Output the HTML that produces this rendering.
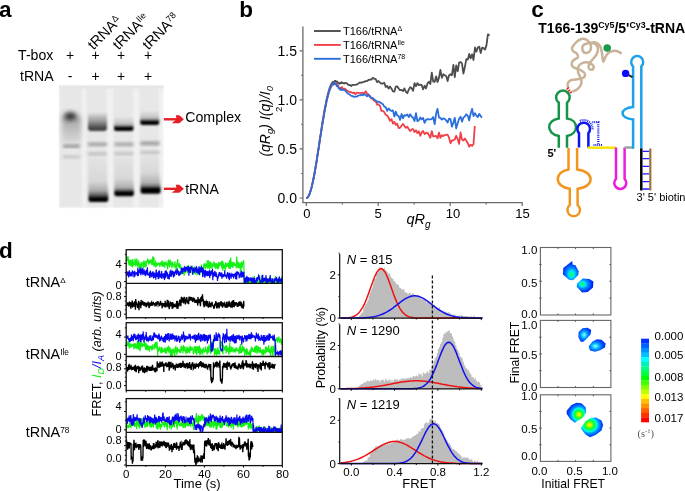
<!DOCTYPE html><html><head><meta charset="utf-8"><style>html,body{margin:0;padding:0;background:#fff;overflow:hidden;}svg{display:block;will-change:transform;} text{font-family:"Liberation Sans",sans-serif;}</style></head><body><svg width="685" height="491" viewBox="0 0 685 491"><text x="-1" y="16.6" font-size="22.5" text-anchor="start" font-weight="bold" font-style="normal" fill="#000" >a</text>
<text x="18.1" y="60.3" font-size="14.1" text-anchor="start" font-weight="normal" font-style="normal" fill="#000" >T-box</text>
<text x="20" y="80.8" font-size="14.1" text-anchor="start" font-weight="normal" font-style="normal" fill="#000" >tRNA</text>
<text x="70.1" y="60" font-size="14" text-anchor="middle" font-weight="normal" font-style="normal" fill="#000" >+</text>
<text x="70.1" y="80.6" font-size="14" text-anchor="middle" font-weight="normal" font-style="normal" fill="#000" >-</text>
<text x="95.7" y="60" font-size="14" text-anchor="middle" font-weight="normal" font-style="normal" fill="#000" >+</text>
<text x="95.7" y="80.6" font-size="14" text-anchor="middle" font-weight="normal" font-style="normal" fill="#000" >+</text>
<text x="121" y="60" font-size="14" text-anchor="middle" font-weight="normal" font-style="normal" fill="#000" >+</text>
<text x="121" y="80.6" font-size="14" text-anchor="middle" font-weight="normal" font-style="normal" fill="#000" >+</text>
<text x="148" y="60" font-size="14" text-anchor="middle" font-weight="normal" font-style="normal" fill="#000" >+</text>
<text x="148" y="80.6" font-size="14" text-anchor="middle" font-weight="normal" font-style="normal" fill="#000" >+</text>
<g transform="translate(93.4,50.4) rotate(-45)">
<text x="0" y="0" font-size="14.5">tRNA<tspan font-size="9" dy="-4.5">Δ</tspan></text>
</g>
<g transform="translate(118.5,50.4) rotate(-45)">
<text x="0" y="0" font-size="14.5">tRNA<tspan font-size="9" dy="-4.5">Ile</tspan></text>
</g>
<g transform="translate(148.2,50.4) rotate(-45)">
<text x="0" y="0" font-size="14.5">tRNA<tspan font-size="9" dy="-4.5">78</tspan></text>
</g>
<defs><filter id="gb1" x="-50%" y="-50%" width="200%" height="200%"><feGaussianBlur stdDeviation="1.3"/></filter><filter id="gb2" x="-50%" y="-50%" width="200%" height="200%"><feGaussianBlur stdDeviation="2.5"/></filter><filter id="gb3" x="-50%" y="-50%" width="200%" height="200%"><feGaussianBlur stdDeviation="0.7"/></filter><filter id="gb4" x="-50%" y="-50%" width="200%" height="200%"><feGaussianBlur stdDeviation="1.8"/></filter><linearGradient id="gelbg" x1="0" y1="0" x2="0" y2="1"><stop offset="0" stop-color="#dedede"/><stop offset="0.15" stop-color="#e9e9e9"/><stop offset="1" stop-color="#ececec"/></linearGradient></defs>
<rect x="59" y="85.6" width="104.5" height="122" fill="#f1f1f1"/>
<rect x="59" y="85.6" width="104.5" height="3" fill="#e6e6e6" filter="url(#gb3)"/>
<rect x="60" y="86" width="22" height="121" fill="#e7e7e7" filter="url(#gb1)"/>
<rect x="86.3" y="86" width="20.3" height="121" fill="#e7e7e7" filter="url(#gb1)"/>
<rect x="113.2" y="86" width="20" height="121" fill="#e7e7e7" filter="url(#gb1)"/>
<rect x="139.4" y="86" width="19.4" height="121" fill="#e7e7e7" filter="url(#gb1)"/>
<g><defs><linearGradient id="bandA" x1="0" y1="0" x2="0" y2="1"><stop offset="0" stop-color="#000" stop-opacity="0"/><stop offset="0.45" stop-color="#000" stop-opacity="0.18"/><stop offset="0.7" stop-color="#000" stop-opacity="0.6"/><stop offset="0.82" stop-color="#000" stop-opacity="1"/><stop offset="1" stop-color="#000" stop-opacity="1"/></linearGradient><linearGradient id="bandB" x1="0" y1="0" x2="0" y2="1"><stop offset="0" stop-color="#000" stop-opacity="0"/><stop offset="0.5" stop-color="#000" stop-opacity="0.16"/><stop offset="0.68" stop-color="#000" stop-opacity="0.5"/><stop offset="0.76" stop-color="#000" stop-opacity="1"/><stop offset="1" stop-color="#000" stop-opacity="1"/></linearGradient><linearGradient id="bandC" x1="0" y1="0" x2="0" y2="1"><stop offset="0" stop-color="#000" stop-opacity="0"/><stop offset="0.5" stop-color="#000" stop-opacity="0.35"/><stop offset="0.85" stop-color="#000" stop-opacity="0.7"/><stop offset="1" stop-color="#000" stop-opacity="0.75"/></linearGradient><linearGradient id="smear" x1="0" y1="0" x2="0" y2="1"><stop offset="0" stop-color="#000" stop-opacity="0.02"/><stop offset="1" stop-color="#000" stop-opacity="0.1"/></linearGradient><linearGradient id="smear1" x1="0" y1="0" x2="0" y2="1"><stop offset="0" stop-color="#000" stop-opacity="0.3"/><stop offset="0.5" stop-color="#000" stop-opacity="0.17"/><stop offset="1" stop-color="#000" stop-opacity="0.04"/></linearGradient></defs><rect x="62" y="116" width="19" height="29" rx="3" fill="url(#smear1)" filter="url(#gb2)"/><ellipse cx="70.3" cy="116.2" rx="6.2" ry="3.9" fill="#2a2a2a" filter="url(#gb2)"/><rect x="63" y="144.8" width="17" height="2.8" rx="1.4" fill="#8c8c8c" filter="url(#gb4)"/><rect x="63" y="155.4" width="17" height="2.8" fill="#c4c4c4" filter="url(#gb4)"/><rect x="88" y="112" width="19" height="19" rx="3" fill="url(#bandC)" filter="url(#gb1)"/><rect x="88" y="142.6" width="19" height="3.4" fill="#a0a0a0" filter="url(#gb4)"/><rect x="88" y="152.4" width="19" height="3" fill="#bcbcbc" filter="url(#gb4)"/><rect x="88.5" y="158" width="19" height="40" fill="url(#smear)" filter="url(#gb1)"/><rect x="88.5" y="181" width="19.8" height="21" rx="2.5" fill="url(#bandA)" filter="url(#gb1)"/><rect x="114" y="116.5" width="19.5" height="14.5" rx="2.5" fill="url(#bandB)" filter="url(#gb1)"/><rect x="114.5" y="142.6" width="19" height="3.4" fill="#a4a4a4" filter="url(#gb4)"/><rect x="114.5" y="152.2" width="19" height="3" fill="#c0c0c0" filter="url(#gb4)"/><rect x="114.5" y="158" width="19" height="34" fill="url(#smear)" filter="url(#gb1)"/><rect x="114.3" y="178.5" width="19.6" height="17.7" rx="2.5" fill="url(#bandB)" filter="url(#gb1)"/><rect x="140.2" y="110.5" width="19" height="14.5" rx="2.5" fill="url(#bandB)" filter="url(#gb1)"/><rect x="140.5" y="141.6" width="19" height="3.6" fill="#9c9c9c" filter="url(#gb4)"/><rect x="140.5" y="151" width="19" height="3" fill="#c0c0c0" filter="url(#gb4)"/><rect x="140.5" y="156" width="19" height="32" fill="url(#smear)" filter="url(#gb1)"/><rect x="140.6" y="172" width="20" height="21.7" rx="2.5" fill="url(#bandB)" filter="url(#gb1)"/></g>
<rect x="163.9" y="118.1" width="13.5" height="2.4" fill="#e61e25"/>
<polygon points="175.8,115.3 179.3,115.3 183.9,119.3 179.3,123.2 171.8,123.2 176.6,119.3" fill="#e61e25"/>
<rect x="163.9" y="187.6" width="13.5" height="2.4" fill="#e61e25"/>
<polygon points="175.8,184.8 179.3,184.8 183.9,188.8 179.3,192.7 171.8,192.7 176.6,188.8" fill="#e61e25"/>
<text x="185.2" y="122" font-size="14.2" text-anchor="start" font-weight="normal" font-style="normal" fill="#000" >Complex</text>
<text x="185.2" y="194" font-size="14.1" text-anchor="start" font-weight="normal" font-style="normal" fill="#000" >tRNA</text>
<text x="239.3" y="16.6" font-size="22.5" text-anchor="start" font-weight="bold" font-style="normal" fill="#000" >b</text>
<path d="M302.9,26.4 V202.6 H522.5" fill="none" stroke="#6a6a6a" stroke-width="1.3"/>
<path d="M299.6,198 H302.9 M299.6,148.9 H302.9 M299.6,99.9 H302.9 M299.6,50.9 H302.9 M301.2,173.5 H302.9 M301.2,124.4 H302.9 M301.2,75.4 H302.9 M306.3,202.6 V206 M378.2,202.6 V206 M450.2,202.6 V206 M522.2,202.6 V206 M342.3,202.6 V204.6 M414.2,202.6 V204.6 M486.2,202.6 V204.6" stroke="#6a6a6a" stroke-width="1.2" fill="none"/>
<text x="297" y="203" font-size="14" text-anchor="end" font-weight="normal" font-style="normal" fill="#000" >0.0</text>
<text x="297" y="153.9" font-size="14" text-anchor="end" font-weight="normal" font-style="normal" fill="#000" >0.5</text>
<text x="297" y="104.9" font-size="14" text-anchor="end" font-weight="normal" font-style="normal" fill="#000" >1.0</text>
<text x="297" y="55.9" font-size="14" text-anchor="end" font-weight="normal" font-style="normal" fill="#000" >1.5</text>
<text x="306.9" y="218.3" font-size="13" text-anchor="middle" font-weight="normal" font-style="normal" fill="#000" >0</text>
<text x="378.2" y="218.3" font-size="13" text-anchor="middle" font-weight="normal" font-style="normal" fill="#000" >5</text>
<text x="453" y="218.3" font-size="13" text-anchor="middle" font-weight="normal" font-style="normal" fill="#000" >10</text>
<text x="522.4" y="218.3" font-size="13" text-anchor="middle" font-weight="normal" font-style="normal" fill="#000" >15</text>
<text x="406.5" y="224" font-size="14.5" font-style="italic">qR<tspan font-size="10" dy="4">g</tspan></text>
<g transform="translate(269.6,156.6) rotate(-90)"><text x="0" y="0" font-size="14" font-style="italic">(qR<tspan font-size="9.5" dy="3">g</tspan><tspan dy="-3">)</tspan><tspan dx="4">I(q)/I</tspan><tspan font-size="9.5" dy="3">0</tspan></text></g>
<g transform="translate(281.5,112) rotate(-90)"><text x="0" y="0" font-size="9.5">2</text></g>
<path d="M314,31 H340.7" stroke="#4d4d4d" stroke-width="1.9"/>
<text x="343" y="34.9" font-size="11">T166/tRNA<tspan font-size="7" dy="-4">Δ</tspan></text>
<path d="M314,44.9 H340.7" stroke="#ef4048" stroke-width="1.9"/>
<text x="343" y="48.8" font-size="11">T166/tRNA<tspan font-size="7" dy="-4">Ile</tspan></text>
<path d="M314,58.8 H340.7" stroke="#2a6edb" stroke-width="1.9"/>
<text x="343" y="62.7" font-size="11">T166/tRNA<tspan font-size="7" dy="-4">78</tspan></text>
<polyline points="306.3,198 306.9,197.9 307.5,197.5 308,196.8 308.6,195.9 309.2,194.7 309.8,193.3 310.3,191.6 310.9,189.7 311.5,187.5 312.1,185.2 312.6,182.6 313.2,179.9 313.8,177 314.4,173.9 314.9,170.7 315.5,167.3 316.1,163.8 316.7,160.3 317.2,156.6 317.8,152.9 318.4,149.1 319,145.3 319.5,141.5 320.1,137.6 320.7,133.8 321.3,130.1 321.8,126.4 322.4,122.7 323,119.2 323.6,115.7 324.1,112.4 324.7,109.1 325.3,106 325.9,103.1 326.4,100.3 327,97.7 327.6,95.2 328.2,93 328.7,90.9 329.3,89 329.9,87.4 330.5,85.9 331.1,84.6 331.6,83.5 332.2,82.7 332.8,82 333.4,82.3 333.9,82.2 334.5,81.2 335.1,80.8 335.7,80.8 336.2,81.8 336.8,81.6 337.4,81.7 338,83.1 338.5,83.3 339.1,83.8 339.7,82.9 340.3,83.4 340.8,83.2 341.4,82.1 342,83.1 342.6,82.7 344,83.6 345.4,82.9 346.9,83.4 348.3,84.9 349.8,85 351.2,86 352.6,84.8 354.1,84.8 355.5,84.9 357,84.3 358.4,83.6 359.8,82.4 361.3,82.8 362.7,82.1 364.1,81.9 365.6,81.1 367,81.1 368.5,80 369.9,79.7 371.3,79.6 372.8,77.9 374.2,78.6 375.7,79.2 377.1,82.1 378.5,81 380,82.7 381.4,83.6 382.9,83.5 384.3,82.8 385.7,86.9 387.2,86 388.6,88.6 390,86.5 391.5,88.7 392.9,91.4 394.4,91.6 395.8,86.7 397.2,86.3 398.7,88.6 400.1,90.1 401.6,89.9 403,91.1 404.4,88.4 405.9,91.9 407.3,93.2 408.8,89.6 410.2,87.1 411.6,88.3 413.1,90.9 414.5,83.1 416,86.2 417.4,83.1 418.8,85.2 420.3,84.6 421.7,85.1 423.1,89.3 424.6,85.8 426,88.4 427.5,83.4 428.9,81.8 430.3,84.1 431.8,72.6 433.2,81.7 434.7,81.9 436.1,76.3 437.5,82 439,77.6 440.4,69.8 441.9,77.9 443.3,74.3 444.7,75.3 446.2,76 447.6,81.1 449,75.5 450.5,74.2 451.9,75.3 453.4,64.8 454.8,77.2 456.2,65.5 457.7,71.2 459.1,62.6 460.6,62 462,63.5 463.4,73.6 464.9,66.8 466.3,59.2 467.8,59.6 469.2,53.9 470.6,58.4 472.1,54.3 473.5,60 475,47.5 476.4,51.7 477.8,47.5 479.3,46.7 480.7,53.1 482.1,47.6 483.6,48.1 485,49.6 486.5,45.1 487.9,34.3 489.3,34.8 489.4,34.6" fill="none" stroke="#4d4d4d" stroke-width="1.8" stroke-linejoin="round"/>
<polyline points="306.3,198 306.9,197.9 307.5,197.5 308,196.8 308.6,195.9 309.2,194.8 309.8,193.3 310.3,191.7 310.9,189.8 311.5,187.7 312.1,185.4 312.6,182.9 313.2,180.2 313.8,177.3 314.4,174.3 314.9,171.1 315.5,167.8 316.1,164.4 316.7,160.9 317.2,157.3 317.8,153.6 318.4,149.9 319,146.2 319.5,142.4 320.1,138.7 320.7,134.9 321.3,131.2 321.8,127.6 322.4,124 323,120.5 323.6,117.1 324.1,113.8 324.7,110.6 325.3,107.6 325.9,104.7 326.4,102 327,99.4 327.6,97 328.2,94.8 328.7,92.7 329.3,90.9 329.9,89.2 330.5,87.8 331.1,86.5 331.6,85.5 332.2,84.6 332.8,84 333.4,84.9 333.9,82.9 334.5,83.5 335.1,83.5 335.7,84.3 336.2,83.5 336.8,84.7 337.4,85.2 338,85.7 338.5,86.5 339.1,87.3 339.7,87.9 340.3,88 340.8,89 341.4,88.6 342,87 342.6,89.6 344,88.6 345.4,89.2 346.9,90.6 348.3,91.3 349.8,92 351.2,92.2 352.6,93.1 354.1,92.5 355.5,94.4 357,92.5 358.4,92.9 359.8,92.8 361.3,92.8 362.7,92.7 364.1,93.4 365.6,91.2 367,93.4 368.5,94.7 369.9,96 371.3,98.6 372.8,98.7 374.2,100.9 375.7,101.1 377.1,104.6 378.5,104.4 380,105.8 381.4,110.9 382.9,110.8 384.3,112.1 385.7,114.8 387.2,115.5 388.6,117.6 390,120.8 391.5,119.1 392.9,123.6 394.4,121.9 395.8,124.9 397.2,123.6 398.7,128.2 400.1,127.7 401.6,125.7 403,123.9 404.4,126.1 405.9,127.8 407.3,126.6 408.8,129.2 410.2,131 411.6,129.5 413.1,129.2 414.5,132 416,130.3 417.4,133.1 418.8,131.2 420.3,135.8 421.7,132.3 423.1,131 424.6,134.1 426,133 427.5,132.7 428.9,135.1 430.3,137.8 431.8,131.1 433.2,136.5 434.7,136.1 436.1,136 437.5,138.4 439,132.6 440.4,137.9 441.9,135.3 443.3,136.1 444.7,135.1 446.2,134.8 447.6,134.6 449,137.7 450.5,143.3 451.9,140.5 453.4,140.3 454.8,139.3 456.2,135.8 457.7,139.1 459.1,143.9 460.6,132.5 462,139.6 463.4,140.6 464.9,138.5 466.3,140.7 467.8,143.2 469.2,146.6 470.6,144.7 472.1,145.8 473.5,144.2 474.8,126" fill="none" stroke="#ef4048" stroke-width="1.8" stroke-linejoin="round"/>
<polyline points="306.3,198 306.9,197.9 307.5,197.5 308,196.8 308.6,195.9 309.2,194.8 309.8,193.3 310.3,191.7 310.9,189.8 311.5,187.7 312.1,185.4 312.6,182.9 313.2,180.2 313.8,177.3 314.4,174.3 314.9,171.1 315.5,167.8 316.1,164.4 316.7,160.9 317.2,157.3 317.8,153.6 318.4,149.9 319,146.2 319.5,142.4 320.1,138.7 320.7,134.9 321.3,131.2 321.8,127.6 322.4,124 323,120.5 323.6,117.1 324.1,113.8 324.7,110.6 325.3,107.6 325.9,104.7 326.4,102 327,99.4 327.6,97 328.2,94.8 328.7,92.7 329.3,90.9 329.9,89.2 330.5,87.8 331.1,86.5 331.6,85.5 332.2,84.6 332.8,84 333.4,83.6 333.9,84 334.5,82.7 335.1,84.1 335.7,83.7 336.2,84.3 336.8,86.2 337.4,86 338,86.6 338.5,87.9 339.1,88.8 339.7,88.8 340.3,89.7 340.8,89.2 341.4,89.8 342,90 342.6,89.6 344,89.8 345.4,90.7 346.9,92.6 348.3,93.7 349.8,94.6 351.2,95.9 352.6,96.1 354.1,96.9 355.5,96.7 357,96.6 358.4,95.3 359.8,95.4 361.3,94.4 362.7,95.3 364.1,94.3 365.6,94.7 367,96.3 368.5,94.7 369.9,97 371.3,97.6 372.8,98.1 374.2,99.5 375.7,100.5 377.1,101.9 378.5,101.7 380,102.3 381.4,103.2 382.9,104.2 384.3,106.6 385.7,107.3 387.2,110.8 388.6,108.4 390,110.1 391.5,111 392.9,110.4 394.4,116.5 395.8,111.6 397.2,115.4 398.7,116 400.1,119.9 401.6,114 403,118.3 404.4,115.1 405.9,115.6 407.3,114.4 408.8,117 410.2,114.3 411.6,116.5 413.1,117.7 414.5,121 416,113.1 417.4,121.2 418.8,120.3 420.3,117.5 421.7,119.4 423.1,118 424.6,122.9 426,119.9 427.5,119.1 428.9,119.3 430.3,119.4 431.8,119.1 433.2,117.1 434.7,124.2 436.1,113.7 437.5,108.8 439,117.7 440.4,117.9 441.9,119.6 443.3,118.3 444.7,118.8 446.2,120.4 447.6,122.6 449,118.7 450.5,119.2 451.9,126.6 453.4,122.6 454.8,117.8 456.2,128.3 457.7,123.3 459.1,118.8 460.6,116.8 462,121.6 463.4,117.7 464.9,116.3 466.3,114.3 467.8,115.8 469.2,120.4 470.6,113.7 472.1,108.8 473.5,116 475,113.2 476.4,115.6 477.8,117 479.3,113.9 480.7,116.1 481.9,117.8" fill="none" stroke="#2a6edb" stroke-width="1.8" stroke-linejoin="round"/>
<text x="531.2" y="16.6" font-size="22.5" text-anchor="start" font-weight="bold" font-style="normal" fill="#000" >c</text>
<text x="538.3" y="33" font-size="14" font-weight="bold">T166-139<tspan font-size="8.8" dy="-5.2">Cy5</tspan><tspan dy="5.2">/5'</tspan><tspan font-size="8.8" dy="-5.2">Cy3</tspan><tspan dy="5.2">-tRNA</tspan></text>
<path d="M568.3,88.2 C568.2,87.5 567.3,85.3 567.6,84 C567.9,82.7 568.8,81.3 570,80.6 C571.2,79.9 573.2,79.9 575,79.6 C576.8,79.3 578.9,79.3 580.5,78.8 C582.1,78.3 583.9,77.8 584.6,76.8 C585.3,75.8 585.1,74.1 584.5,73 C583.9,71.9 582.3,71 581,70.3 C579.7,69.5 577.9,69.1 576.5,68.5 C575.1,67.9 573.3,67.5 572.5,66.5 C571.7,65.5 571.5,63.7 571.8,62.5 C572.1,61.3 573.5,60.4 574.5,59.5 C575.5,58.6 577.6,58.2 578,57.2 C578.4,56.2 577.5,54.5 576.8,53.5 C576,52.5 574.3,52.4 573.5,51.5 C572.7,50.6 571.7,49.4 572,48 C572.3,46.6 574.2,44.4 575.5,43 C576.8,41.6 578.4,40.2 580,39.5 C581.6,38.8 583.5,38.6 585,39 C586.5,39.4 588,40.7 589,42 C590,43.3 590.9,45.4 591,47 C591.1,48.6 590.4,50.5 589.5,51.5 C588.6,52.5 586.7,53.2 585.5,53 C584.3,52.8 582.9,51.2 582.5,50 C582.1,48.8 582.2,46.6 583,45.5 C583.8,44.4 585.5,43.9 587,43.5 C588.5,43.1 590.5,43 592,43.2 C593.5,43.4 595,43.5 596,44.5 C597,45.5 597.9,47.3 598,49 C598.1,50.7 597.3,52.8 596.5,54.5 C595.7,56.2 594.1,57.7 593,59 C591.9,60.3 590.8,61.2 590,62.5 C589.2,63.8 588.5,65.3 588.5,66.5 C588.5,67.7 589.2,69.1 590,69.5 C590.8,69.9 592.4,69.6 593,69 C593.6,68.4 593.9,66.9 593.5,66 C593.1,65.1 591.8,64.1 590.5,63.5 C589.2,62.9 587.5,62.2 586,62.2 C584.5,62.2 582.8,62.8 581.5,63.5 C580.2,64.2 579.1,65.1 578.5,66.5 C577.9,67.9 577.8,70.3 578,72 C578.2,73.7 579.4,75 580,76.5 C580.6,78 581.4,79.5 581.5,81 C581.6,82.5 581.2,84.1 580.5,85.5 C579.8,86.9 578.3,88.5 577,89.5 C575.7,90.5 573.2,91.2 572.5,91.5" stroke="#c9b398" stroke-width="2.5" fill="none" stroke-linecap="butt"/>
<path d="M590,43 C590.9,42.9 593.8,42 595.5,42.5 C597.2,43 599,44.4 600,46 C601,47.6 601.4,49.9 601.8,52 C602.2,54.1 602.3,56.9 602.6,58.5 C602.9,60.1 603.1,61.8 603.6,61.5 C604.1,61.2 604.7,58.5 605.5,57 C606.3,55.5 607.2,53.8 608.5,52.8 C609.8,51.8 611.4,51.1 613,50.9 C614.6,50.7 616.6,51 618,51.5 C619.4,52 621,53.4 621.6,53.8" stroke="#c9b398" stroke-width="2.5" fill="none" stroke-linecap="butt"/>
<path d="M566.5,89.5 L568.8,87.5 M567.8,91.6 L570.3,89.8 M569.6,93.3 L572,91.6" stroke="#ee1c1c" stroke-width="1.4"/>
<circle cx="607.2" cy="48" r="3.8" fill="#1a9a4a"/>
<path d="M558.8,147.8 V136 C546,134 546,120 558.8,118.5 V102.8 A6.8,6.8 0 1 1 567,102.8 V118.5 C579,120 579,134 567,136 V147.8" stroke="#16944a" stroke-width="2.5" fill="none" stroke-linecap="butt"/>
<path d="M568.5,148 V169.5 C554,171.5 554,187 569.8,188.8 V205 A6.3,6.3 0 1 0 577.6,205 V188.8 C595,187 595,171.5 577.1,169.5 V148" stroke="#f0961e" stroke-width="2.5" fill="none" stroke-linecap="butt"/>
<path d="M579,147.5 V133.2 A6.3,6.3 0 1 1 588.4,133.2 V147.5" stroke="#0a14f0" stroke-width="2.5" fill="none" stroke-linecap="butt"/>
<path d="M579.9,120.9 A8.9,8.9 0 0 1 592.6,129.3 M592.4,122.2 H598.3 V144.6 M593.5,145 H602.7" stroke="#0a14f0" stroke-width="2.2" stroke-dasharray="0.9,1" fill="none"/>
<path d="M587.8,147.7 H616" stroke="#f5e400" stroke-width="2.5"/>
<path d="M616,147.5 V178.8 A6,6 0 1 0 624.6,178.8 V147.5" stroke="#ee1bdc" stroke-width="2.5" fill="none" stroke-linecap="butt"/>
<path d="M624.6,147.5 H633.2" stroke="#a0a0a0" stroke-width="2.5"/>
<path d="M633.1,148.7 V119.4 C619,118.5 619,108 633.1,107.1 V66.5 A6,6 0 1 1 641.3,66.5 V148.7" stroke="#1aa3e8" stroke-width="2.5" fill="none" stroke-linecap="butt"/>
<path d="M641.3,148.5 V190.5" stroke="#000" stroke-width="2.5"/>
<path d="M650.3,148.5 V190.5" stroke="#a07040" stroke-width="2.2"/>
<path d="M642.5,151.3 H649.2 M642.5,158.6 H649.2 M642.5,166.3 H649.2 M642.5,173.9 H649.2 M642.5,181.6 H649.2 M642.5,189 H649.2" stroke="#1a1aff" stroke-width="1.3"/>
<circle cx="625.6" cy="73.4" r="3.7" fill="#0a0aff"/>
<path d="M628.6,75.2 L632.5,77.2" stroke="#222" stroke-width="2"/>
<text x="547.5" y="156.7" font-size="11" text-anchor="start" font-weight="bold" font-style="normal" fill="#000" >5'</text>
<text x="636.6" y="200.6" font-size="11" text-anchor="start" font-weight="normal" font-style="normal" fill="#000" >3' 5' biotin</text>
<text x="-1" y="258.2" font-size="22.5" text-anchor="start" font-weight="bold" font-style="normal" fill="#000" >d</text>
<text x="25.8" y="287" font-size="14.4">tRNA<tspan font-size="8" dy="-3.6">Δ</tspan></text>
<text x="25.8" y="358.9" font-size="14.4">tRNA<tspan font-size="8.3" dy="-4">Ile</tspan></text>
<text x="25.8" y="437.2" font-size="14.4">tRNA<tspan font-size="8.3" dy="-4.3">78</tspan></text>
<clipPath id="cu0"><rect x="126.2" y="249.7" width="156.1" height="33.6"/></clipPath>
<clipPath id="cl0"><rect x="126.2" y="283.3" width="156.1" height="34.4"/></clipPath>
<g clip-path="url(#cu0)">
<polyline points="126.3,258.8 126.5,260.5 126.8,258.4 127,257.7 127.2,260.9 127.5,256.5 127.7,257.6 127.9,259.6 128.2,256.4 128.4,263.4 128.6,259.1 128.9,265.1 129.1,260.9 129.3,259.8 129.6,262.5 129.8,262.5 130,265.8 130.3,260.2 130.5,264 130.8,263.2 131,259.8 131.2,266.8 131.5,262.3 131.7,259.9 131.9,265.6 132.2,266.1 132.4,260.3 132.6,260.2 132.9,259.1 133.1,262.8 133.3,263 133.6,266.1 133.8,264.1 134,262.3 134.3,264.6 134.5,263.7 134.7,264.8 135,258.5 135.2,264.1 135.4,260.4 135.7,262.2 135.9,266.8 136.1,260.1 136.4,265 136.6,263 136.8,258.6 137.1,260.2 137.3,265.3 137.5,263.2 137.8,266.4 138,266.8 138.3,263.8 138.5,262 138.7,261.5 139,263.5 139.2,265.5 139.4,264.5 139.7,268.3 139.9,264.2 140.1,264.3 140.4,266.2 140.6,265.8 140.8,266.1 141.1,261.9 141.3,267.1 141.5,268 141.8,266.7 142,265.6 142.2,263.5 142.5,264.5 142.7,263.5 142.9,261.7 143.2,264.5 143.4,265.6 143.6,268.1 143.9,260.3 144.1,266.5 144.3,261.3 144.6,265.8 144.8,265.4 145,265.8 145.3,262.4 145.5,263.1 145.8,263.8 146,261 146.2,266.8 146.5,260.8 146.7,261.7 146.9,262.1 147.2,261 147.4,259.9 147.6,259.5 147.9,261.4 148.1,261.4 148.3,259.9 148.6,262.9 148.8,264.7 149,262.9 149.3,263.8 149.5,260.3 149.7,261.5 150,259.8 150.2,262.8 150.4,261.6 150.7,262.4 150.9,260.8 151.1,260.4 151.4,264.6 151.6,261.1 151.8,263.8 152.1,263.9 152.3,260.1 152.5,260.8 152.8,256.3 153,265.3 153.3,262.7 153.5,264.2 153.7,262 154,257.3 154.2,266.7 154.4,265.5 154.7,264.5 154.9,262.9 155.1,263.8 155.4,264.8 155.6,260.6 155.8,266.8 156.1,266.8 156.3,262.7 156.5,265.5 156.8,264.6 157,265.6 157.2,263.6 157.5,264.8 157.7,262.8 157.9,263.3 158.2,264.8 158.4,264.7 158.6,262.8 158.9,264.4 159.1,263.1 159.3,263.3 159.6,263.6 159.8,266.9 160,264.7 160.3,263.4 160.5,265.3 160.8,261.8 161,263.2 161.2,262.2 161.5,262 161.7,266.1 161.9,264.2 162.2,260.6 162.4,264.7 162.6,264.8 162.9,266.6 163.1,265.6 163.3,262.6 163.6,262.9 163.8,262.2 164,266.5 164.3,263.8 164.5,261.9 164.7,267.7 165,263.3 165.2,263.6 165.4,265 165.7,261.8 165.9,263.5 166.1,262.8 166.4,264 166.6,263.3 166.8,263.5 167.1,264.8 167.3,264.7 167.5,269.5 167.8,266.4 168,261.5 168.3,260.9 168.5,265.1 168.7,264.6 169,260.3 169.2,265 169.4,267.4 169.7,260.6 169.9,260.4 170.1,261.2 170.4,263.3 170.6,264.9 170.8,260.5 171.1,266.1 171.3,262.4 171.5,265 171.8,264.4 172,268.2 172.2,264.6 172.5,263.8 172.7,261.6 172.9,264.2 173.2,265.6 173.4,264.9 173.6,265.1 173.9,265.2 174.1,267.4 174.3,264.4 174.6,264.6 174.8,264.2 175,261.3 175.3,267.6 175.5,265.6 175.7,265.5 176,271 176.2,266.2 176.5,265 176.7,268.9 176.9,262.5 177.2,264.8 177.4,264.8 177.6,258.9 177.9,264 178.1,265.6 178.3,264.9 178.6,266.6 178.8,266.5 179,264 179.3,263.3 179.5,268.4 179.7,264.6 180,266.6 180.2,264.3 180.4,265 180.7,265.8 180.9,269.3 181.1,268.7 181.4,273.5 181.6,270.3 181.8,271 182.1,271.4 182.3,270.2 182.5,273.1 182.8,274 183,271.7 183.2,272.1 183.5,270.5 183.7,272.3 184,271.6 184.2,275.8 184.4,268.5 184.7,270.4 184.9,270.8 185.1,271 185.4,273.2 185.6,270.7 185.8,271.7 186.1,269.5 186.3,269.6 186.5,268.7 186.8,269.8 187,268.2 187.2,265.5 187.5,273.2 187.7,269.9 187.9,269.3 188.2,270.3 188.4,265.3 188.6,268.2 188.9,266.7 189.1,268 189.3,268.6 189.6,268.2 189.8,267 190,272.6 190.3,267 190.5,272.3 190.7,270.3 191,265.8 191.2,269.6 191.5,267.6 191.7,269.7 191.9,266.4 192.2,270.8 192.4,273.9 192.6,266.5 192.9,271 193.1,267.8 193.3,274.2 193.6,272.7 193.8,271.6 194,268.9 194.3,273.5 194.5,266.6 194.7,271.4 195,273.3 195.2,270.8 195.4,274.4 195.7,271.2 195.9,268.5 196.1,269.9 196.4,270.2 196.6,270.3 196.8,270.6 197.1,274.2 197.3,273.8 197.5,270 197.8,272.2 198,268.8 198.2,271.3 198.5,271.7 198.7,273.4 199,274 199.2,269.9 199.4,267.6 199.7,272.6 199.9,274.9 200.1,270.5 200.4,270.3 200.6,272.4 200.8,267.9 201.1,270.5 201.3,264.5 201.5,268.8 201.8,267.6 202,271.3 202.2,270.3 202.5,273.9 202.7,267 202.9,268 203.2,274.5 203.4,274.7 203.6,266.1 203.9,264.1 204.1,264 204.3,267.3 204.6,263.9 204.8,264.9 205,266.4 205.3,269.1 205.5,264 205.7,263.5 206,267.8 206.2,264.2 206.5,266.3 206.7,266.5 206.9,266.3 207.2,261.3 207.4,261.6 207.6,264.5 207.9,269 208.1,260.5 208.3,262.9 208.6,261.5 208.8,262 209,267.5 209.3,264.1 209.5,267.5 209.7,269.7 210,262.2 210.2,261.6 210.4,264 210.7,267.6 210.9,263 211.1,264.5 211.4,262.7 211.6,267.3 211.8,263.3 212.1,269 212.3,265.3 212.5,266.1 212.8,264.3 213,266.1 213.2,266.6 213.5,262.6 213.7,264.6 214,262.5 214.2,263 214.4,262.2 214.7,267.4 214.9,264.2 215.1,265.8 215.4,263.5 215.6,269 215.8,265.5 216.1,263.1 216.3,264.8 216.5,264 216.8,268 217,266.1 217.2,268.6 217.5,263.5 217.7,266.3 217.9,266.8 218.2,269.3 218.4,267.4 218.6,261.9 218.9,264.8 219.1,263.1 219.3,265.2 219.6,265.8 219.8,265.1 220,262.3 220.3,263.7 220.5,265.5 220.7,262.4 221,263.5 221.2,262.4 221.5,261.5 221.7,266.5 221.9,268.8 222.2,260.6 222.4,266 222.6,263.4 222.9,270.8 223.1,261.8 223.3,266.3 223.6,263.7 223.8,268 224,265.8 224.3,264.7 224.5,268.5 224.7,266 225,267 225.2,270.9 225.4,262.4 225.7,268.8 225.9,264.7 226.1,265.1 226.4,264.6 226.6,267 226.8,263 227.1,266 227.3,263.7 227.5,264.2 227.8,263.9 228,265.3 228.2,267.2 228.5,262.5 228.7,268.5 228.9,264.2 229.2,268.2 229.4,259.9 229.7,266.9 229.9,261.9 230.1,268.3 230.4,268.3 230.6,257.5 230.8,260.4 231.1,266.3 231.3,261.5 231.5,266.8 231.8,266.1 232,264.9 232.2,262 232.5,264.5 232.7,267 232.9,268 233.2,264 233.4,262.6 233.6,264.9 233.9,261.8 234.1,265.9 234.3,264.4 234.6,264.3 234.8,263.2 235,265.8 235.3,264.5 235.5,265.6 235.7,263.8 236,267.1 236.2,267.4 236.4,264 236.7,256.6 236.9,266.4 237.2,260.4 237.4,266.3 237.6,262.6 237.9,268 238.1,267 238.3,267.6 238.6,261.9 238.8,267.4 239,267.3 239.3,267.1 239.5,264.9 239.7,268.2 240,262.9 240.2,266.7 240.4,272 240.7,265.6 240.9,271.6 241.1,265.2 241.4,262.6 241.6,261.7 241.8,264 242.1,268 242.3,266 242.5,262.9 242.8,262.8 243,265 243.2,263.1 243.5,260 243.7,261.9 243.9,265.7 244.2,281 244.4,281.5 244.7,281.7 244.9,281.9 245.1,279 245.4,281.9 245.6,282.4 245.8,283 246.1,281.8 246.3,281.2 246.5,280.9 246.8,279.8 247,285.8 247.2,277.5 247.5,279.4 247.7,284.5 247.9,282.8 248.2,280.7 248.4,281.3 248.6,284.3 248.9,282.4 249.1,278.5 249.3,279.3 249.6,277.9 249.8,279.1 250,280.9 250.3,285.5 250.5,280.9 250.7,283.6 251,282.5 251.2,282.5 251.4,282.2 251.7,283.6 251.9,278.5 252.2,281 252.4,279.1 252.6,280.9 252.9,279.4 253.1,282.9 253.3,285.9 253.6,283.3 253.8,282.2 254,284.8 254.3,275.8 254.5,280 254.7,282.5 255,284.7 255.2,283 255.4,283.6 255.7,282 255.9,281.5 256.1,284.5 256.4,280.3 256.6,281 256.8,281.3 257.1,282.2 257.3,282.2 257.5,281.7 257.8,283.5 258,279.8 258.2,283.9 258.5,282.6 258.7,281.5 258.9,282.9 259.2,282.9 259.4,286.4 259.7,275.4 259.9,280.7 260.1,285.6 260.4,285.1 260.6,284 260.8,282.5 261.1,287.1 261.3,278.4 261.5,279.5 261.8,279.3 262,282.7 262.2,282.6 262.5,281.6 262.7,282.5 262.9,281.6 263.2,283.5 263.4,284.9 263.6,282.6 263.9,286.6 264.1,283.5 264.3,278.4 264.6,282.1 264.8,284.8 265,277.6 265.3,280 265.5,284.2 265.7,282.5 266,281 266.2,282.5 266.4,278.3 266.7,280.8 266.9,282.1 267.2,284.3 267.4,285.2 267.6,282.9 267.9,279.9 268.1,284.3 268.3,281.7 268.6,284.1 268.8,279.2 269,277.7 269.3,279.9 269.5,280.8 269.7,283.2 270,282.1 270.2,279.7 270.4,282.4 270.7,282.6 270.9,281 271.1,279.9 271.4,282.9 271.6,281.8 271.8,284.7 272.1,282.2 272.3,280.7 272.5,280.5 272.8,281.3 273,280.5 273.2,282.4 273.5,283.5 273.7,280.2 273.9,284 274.2,279.9 274.4,282.9 274.6,284.5 274.9,279.5 275.1,280.7 275.4,279.4 275.6,276.1 275.8,288.5 276.1,283.6 276.3,281.1 276.5,278.6 276.8,284.1 277,282.4 277.2,281 277.5,279.3 277.7,280.2 277.9,284 278.2,287.8 278.4,282.9 278.6,282.4 278.9,280.1 279.1,281.6 279.3,282.9 279.6,278.9 279.8,281.3 280,287 280.3,281.4 280.5,283.6 280.7,282.6 281,283 281.2,283.7 281.4,282.5 281.7,282.4 281.9,276.5 282.1,279.1 282.4,280.2" fill="none" stroke="#14f014" stroke-width="1.2"/>
<polyline points="126.3,273.8 126.5,275.1 126.8,271.3 127,271.8 127.2,274.1 127.5,275.5 127.7,273.8 127.9,274 128.2,272.3 128.4,272.2 128.6,277.4 128.9,272.8 129.1,276.1 129.3,270.3 129.6,271.8 129.8,272 130,274.8 130.3,276.4 130.5,272.6 130.8,274.1 131,274.5 131.2,273.3 131.5,272.9 131.7,275.8 131.9,274.3 132.2,276.4 132.4,270.4 132.6,273 132.9,271 133.1,272.9 133.3,272 133.6,273.5 133.8,273.8 134,277.4 134.3,274.7 134.5,273.5 134.7,270.9 135,276.4 135.2,273.2 135.4,274.7 135.7,272.9 135.9,272.8 136.1,274.6 136.4,273.1 136.6,272.9 136.8,273.1 137.1,273.8 137.3,272.4 137.5,276.2 137.8,267.7 138,272.6 138.3,276 138.5,273.4 138.7,272 139,270.1 139.2,272.3 139.4,269.3 139.7,273.2 139.9,271.5 140.1,267.2 140.4,272.8 140.6,272.2 140.8,275.3 141.1,273.1 141.3,268.5 141.5,270.9 141.8,273.6 142,270.9 142.2,272.7 142.5,273 142.7,267.7 142.9,275 143.2,273.7 143.4,273.7 143.6,272.5 143.9,272.3 144.1,269.4 144.3,273.1 144.6,273.9 144.8,273.3 145,273.7 145.3,271.1 145.5,276.2 145.8,273.9 146,271 146.2,270.7 146.5,271.7 146.7,272.3 146.9,273.9 147.2,274.8 147.4,267.3 147.6,273 147.9,274.4 148.1,275.3 148.3,274.5 148.6,274.9 148.8,273.8 149,274.7 149.3,272.9 149.5,273.2 149.7,277.4 150,277.4 150.2,274.2 150.4,270.5 150.7,276.5 150.9,273.1 151.1,275.2 151.4,276 151.6,275.1 151.8,276.5 152.1,272.9 152.3,272 152.5,275.3 152.8,274.8 153,271.2 153.3,276.1 153.5,278.5 153.7,273.5 154,274.8 154.2,275.4 154.4,272.5 154.7,274 154.9,277.9 155.1,273.4 155.4,274.4 155.6,274 155.8,279.8 156.1,270.6 156.3,269.6 156.5,274.4 156.8,276.8 157,276.3 157.2,273.2 157.5,273.8 157.7,275.8 157.9,274.9 158.2,279.3 158.4,272.3 158.6,271.9 158.9,276.1 159.1,278.6 159.3,272.4 159.6,271.8 159.8,274.3 160,275.5 160.3,276.4 160.5,276.7 160.8,273.5 161,274.4 161.2,278 161.5,274.9 161.7,271 161.9,278.9 162.2,274.8 162.4,276.3 162.6,273.5 162.9,275.7 163.1,273.9 163.3,274.6 163.6,278.2 163.8,277.3 164,273 164.3,277 164.5,280.1 164.7,274.2 165,274.1 165.2,270.8 165.4,278.2 165.7,275.2 165.9,277.4 166.1,270.2 166.4,275.8 166.6,271.7 166.8,272.7 167.1,273.9 167.3,276.1 167.5,272.6 167.8,278.9 168,276.6 168.3,274.3 168.5,277.7 168.7,276.2 169,278.1 169.2,279.5 169.4,276.1 169.7,273.9 169.9,271.9 170.1,271.2 170.4,276.8 170.6,274.9 170.8,269.5 171.1,274 171.3,273.7 171.5,276.8 171.8,274 172,271 172.2,274.7 172.5,271.3 172.7,270.7 172.9,273.7 173.2,272.4 173.4,276.2 173.6,277.5 173.9,271.6 174.1,274.6 174.3,274.9 174.6,276.2 174.8,271.8 175,272.6 175.3,273.7 175.5,270.4 175.7,271.5 176,273.3 176.2,271.8 176.5,270.7 176.7,274.9 176.9,270.4 177.2,268.6 177.4,273.3 177.6,272.7 177.9,271.6 178.1,272.6 178.3,270.5 178.6,275.1 178.8,272.6 179,276 179.3,272.9 179.5,274.7 179.7,274.7 180,271.3 180.2,273 180.4,274.7 180.7,272.7 180.9,274.2 181.1,271.8 181.4,268.5 181.6,268.3 181.8,268.6 182.1,270 182.3,270.1 182.5,273.7 182.8,267.8 183,271.4 183.2,271.3 183.5,270.4 183.7,270.2 184,268.3 184.2,267.6 184.4,268.4 184.7,267.8 184.9,271.9 185.1,269.3 185.4,269.4 185.6,271.9 185.8,267.5 186.1,267.6 186.3,269.9 186.5,268.2 186.8,267.7 187,269.5 187.2,269.4 187.5,270.5 187.7,270.7 187.9,269 188.2,266.2 188.4,270.8 188.6,265.7 188.9,275.7 189.1,270 189.3,267 189.6,272.6 189.8,270 190,267.5 190.3,271.3 190.5,272.9 190.7,266.7 191,268.7 191.2,266.7 191.5,267.4 191.7,267 191.9,269.8 192.2,269.1 192.4,268.6 192.6,274.8 192.9,269.9 193.1,269.3 193.3,267.5 193.6,270 193.8,269.9 194,269.9 194.3,272.7 194.5,271.8 194.7,270 195,267.4 195.2,268.6 195.4,269.7 195.7,270 195.9,269.5 196.1,272.5 196.4,266.9 196.6,267.1 196.8,267.9 197.1,272.9 197.3,272.1 197.5,268.5 197.8,273 198,271.7 198.2,273.9 198.5,269.9 198.7,271.3 199,266.4 199.2,269 199.4,274.9 199.7,269.8 199.9,268.5 200.1,268.2 200.4,270.7 200.6,271.6 200.8,271.5 201.1,268.1 201.3,272.4 201.5,266.3 201.8,268 202,270.1 202.2,269.9 202.5,269 202.7,277.3 202.9,267.9 203.2,271 203.4,269 203.6,272.5 203.9,272 204.1,271.7 204.3,276.5 204.6,271.7 204.8,277.7 205,274.4 205.3,270.4 205.5,269.9 205.7,275.3 206,273.5 206.2,275.2 206.5,274.7 206.7,271.3 206.9,271.9 207.2,271 207.4,272.8 207.6,276.1 207.9,271.2 208.1,273.4 208.3,273.1 208.6,274.6 208.8,274.8 209,275.9 209.3,270.2 209.5,270.9 209.7,278.1 210,272.8 210.2,272.7 210.4,273.3 210.7,275.9 210.9,271.1 211.1,270.6 211.4,273.3 211.6,273.5 211.8,273.7 212.1,271.6 212.3,273 212.5,268.9 212.8,280.3 213,272.7 213.2,272.6 213.5,277 213.7,275.8 214,275.7 214.2,273.9 214.4,273.2 214.7,273.3 214.9,270.7 215.1,275.9 215.4,273.8 215.6,275.1 215.8,277 216.1,272.4 216.3,273.1 216.5,276.4 216.8,276.8 217,276.3 217.2,276.4 217.5,281 217.7,276.5 217.9,278.6 218.2,277.7 218.4,274.1 218.6,274.6 218.9,275.7 219.1,272.6 219.3,272.1 219.6,275.3 219.8,274 220,276.1 220.3,272.9 220.5,275.9 220.7,273.3 221,276.7 221.2,273.8 221.5,274.4 221.7,272.6 221.9,278.7 222.2,273.8 222.4,277.1 222.6,275 222.9,276.6 223.1,274.6 223.3,276.5 223.6,274.2 223.8,277.2 224,275.8 224.3,274.4 224.5,275.8 224.7,270.4 225,276.1 225.2,275.1 225.4,275.6 225.7,275.5 225.9,276.8 226.1,274.6 226.4,276.8 226.6,278.7 226.8,276.4 227.1,276.4 227.3,273.9 227.5,272.2 227.8,274 228,275.2 228.2,273.2 228.5,277.4 228.7,278.6 228.9,276.1 229.2,272.7 229.4,280.2 229.7,273.9 229.9,272.8 230.1,274.9 230.4,276.6 230.6,274.9 230.8,274.8 231.1,278.8 231.3,277.1 231.5,275.2 231.8,276.1 232,274.2 232.2,274.6 232.5,276.6 232.7,273.8 232.9,275.3 233.2,275.5 233.4,276.4 233.6,278.5 233.9,274.8 234.1,273.9 234.3,274.9 234.6,275.2 234.8,273.8 235,276.8 235.3,272.7 235.5,274.2 235.7,279.3 236,273.6 236.2,276.9 236.4,271.6 236.7,279.6 236.9,272.3 237.2,275.1 237.4,272.1 237.6,272.3 237.9,274.1 238.1,273.5 238.3,274.5 238.6,272 238.8,274.1 239,275.4 239.3,278.1 239.5,274.8 239.7,274.6 240,276.5 240.2,275.3 240.4,273.7 240.7,272.9 240.9,272.3 241.1,277.9 241.4,270.9 241.6,274 241.8,276.5 242.1,275.6 242.3,272.7 242.5,273.1 242.8,277.3 243,273.3 243.2,272.3 243.5,275.2 243.7,271.9 243.9,273.6 244.2,283 244.4,281.5 244.7,278.8 244.9,282.1 245.1,277.9 245.4,282.9 245.6,282.3 245.8,278.6 246.1,277 246.3,278.9 246.5,282 246.8,275.8 247,278.6 247.2,281.2 247.5,281.7 247.7,280.6 247.9,282.2 248.2,277 248.4,278.8 248.6,280.9 248.9,280.4 249.1,278 249.3,279.8 249.6,280.6 249.8,277.7 250,279.4 250.3,280.3 250.5,280 250.7,279.1 251,277.3 251.2,278.8 251.4,278 251.7,281.8 251.9,282.4 252.2,281.8 252.4,278.3 252.6,278.8 252.9,282.6 253.1,278 253.3,278.3 253.6,279 253.8,278.5 254,283.5 254.3,280.8 254.5,278 254.7,281.6 255,283.2 255.2,281.1 255.4,280.8 255.7,280.1 255.9,283.4 256.1,282.8 256.4,277.5 256.6,279.9 256.8,280.8 257.1,277.8 257.3,281.2 257.5,279.4 257.8,276.9 258,277.7 258.2,278.4 258.5,278.7 258.7,275.3 258.9,275.6 259.2,279.3 259.4,277.2 259.7,280.8 259.9,279.3 260.1,282.9 260.4,280.2 260.6,281.2 260.8,282.1 261.1,281 261.3,281 261.5,281.3 261.8,282.3 262,275.2 262.2,283.7 262.5,280.4 262.7,274.8 262.9,280.7 263.2,278.9 263.4,282 263.6,279.3 263.9,278.2 264.1,279.8 264.3,277.8 264.6,281.1 264.8,279.6 265,280.2 265.3,281.4 265.5,279 265.7,278.5 266,275.2 266.2,279.3 266.4,284.7 266.7,280.2 266.9,278.1 267.2,280.5 267.4,281.1 267.6,283 267.9,280.7 268.1,280.1 268.3,278.9 268.6,280.1 268.8,279.9 269,281.9 269.3,280.2 269.5,279.2 269.7,279.7 270,281.4 270.2,275.1 270.4,280.1 270.7,280.2 270.9,282.1 271.1,278.4 271.4,282.8 271.6,281 271.8,284.3 272.1,281 272.3,282.8 272.5,280.3 272.8,278.3 273,282.1 273.2,283.2 273.5,281.3 273.7,284.4 273.9,281.8 274.2,283.4 274.4,278.7 274.6,279.7 274.9,279.9 275.1,278.5 275.4,278.7 275.6,279.4 275.8,279.8 276.1,279.3 276.3,280.9 276.5,277.1 276.8,280.2 277,281.4 277.2,282.1 277.5,281 277.7,281.5 277.9,281.1 278.2,278.5 278.4,281.8 278.6,281.4 278.9,277.9 279.1,282.3 279.3,276.4 279.6,281.6 279.8,279.7 280,281.7 280.3,280.5 280.5,279.8 280.7,280.6 281,280.4 281.2,282.3 281.4,283.6 281.7,278.9 281.9,279.1 282.1,278.2 282.4,285.2" fill="none" stroke="#0808f0" stroke-width="1.2"/>
</g><g clip-path="url(#cl0)">
<polyline points="126.3,307.6 126.5,304.6 126.8,304.9 127,305.8 127.2,302.4 127.5,305.8 127.7,302.8 127.9,304.6 128.2,304.6 128.4,303.6 128.6,303.3 128.9,306.7 129.1,303.6 129.3,306 129.6,301.5 129.8,305.8 130,304.1 130.3,304.8 130.5,302.2 130.8,308.6 131,304.6 131.2,306.4 131.5,305.5 131.7,305.4 131.9,303.1 132.2,300.6 132.4,306.9 132.6,307.5 132.9,304.3 133.1,302.6 133.3,304.1 133.6,305.5 133.8,306.6 134,304.8 134.3,304.3 134.5,301.4 134.7,305.6 135,306.2 135.2,304.1 135.4,309.7 135.7,299.1 135.9,301.1 136.1,304.7 136.4,302.5 136.6,304.3 136.8,303.8 137.1,305.3 137.3,304.8 137.5,308 137.8,306.9 138,303.8 138.3,305.4 138.5,302.9 138.7,300.7 139,310.2 139.2,304.8 139.4,305.7 139.7,302.2 139.9,304.7 140.1,303.6 140.4,306.3 140.6,303.9 140.8,308.3 141.1,299.9 141.3,304.3 141.5,305.1 141.8,303.1 142,303.9 142.2,303.4 142.5,303.2 142.7,300.9 142.9,302.8 143.2,304.6 143.4,302.3 143.6,305.7 143.9,302.8 144.1,305.3 144.3,302.1 144.6,305.5 144.8,304.8 145,305.3 145.3,304.2 145.5,303.8 145.8,302.6 146,305.1 146.2,302.9 146.5,307.3 146.7,304.6 146.9,305.3 147.2,304.9 147.4,303.2 147.6,304.4 147.9,303.1 148.1,301.5 148.3,304 148.6,305.7 148.8,303.3 149,308.2 149.3,306.1 149.5,306.6 149.7,306 150,302.4 150.2,304.8 150.4,302.9 150.7,305.3 150.9,305.9 151.1,303.1 151.4,305.4 151.6,302.5 151.8,302.9 152.1,304.8 152.3,302.5 152.5,305.7 152.8,304.8 153,303.4 153.3,301.7 153.5,303.6 153.7,304.7 154,303.5 154.2,303.6 154.4,303.7 154.7,303.8 154.9,305.7 155.1,305.7 155.4,304.4 155.6,302.2 155.8,305.5 156.1,303.1 156.3,303.9 156.5,304.8 156.8,305.3 157,302.3 157.2,302.4 157.5,302.6 157.7,303 157.9,301.1 158.2,302.9 158.4,303.2 158.6,303.4 158.9,303.4 159.1,305.1 159.3,304.7 159.6,302.9 159.8,306 160,302.4 160.3,304 160.5,300.9 160.8,304.8 161,303.3 161.2,304.9 161.5,303.7 161.7,303.7 161.9,305.7 162.2,308.3 162.4,303.9 162.6,304.2 162.9,306.3 163.1,304.8 163.3,306.4 163.6,303.6 163.8,303.6 164,305.3 164.3,305.1 164.5,306.3 164.7,307.2 165,305.8 165.2,300.8 165.4,304.1 165.7,306.4 165.9,307.5 166.1,302.7 166.4,306.1 166.6,303.9 166.8,304.4 167.1,304.3 167.3,299.7 167.5,302.7 167.8,306.8 168,304.3 168.3,307.3 168.5,300.5 168.7,302.9 169,303.9 169.2,309.2 169.4,305.1 169.7,307.1 169.9,305.8 170.1,305.6 170.4,301.5 170.6,306.1 170.8,304.5 171.1,302.3 171.3,304.6 171.5,302.9 171.8,305.8 172,305.9 172.2,309 172.5,303.8 172.7,302.1 172.9,306.7 173.2,303.6 173.4,305.7 173.6,306.6 173.9,305.9 174.1,303.9 174.3,304.6 174.6,304.5 174.8,307.1 175,306.4 175.3,304.9 175.5,307.2 175.7,306 176,307 176.2,303.2 176.5,306.5 176.7,300.8 176.9,307.3 177.2,306.9 177.4,306.4 177.6,300.9 177.9,309.1 178.1,303.3 178.3,304.1 178.6,305.3 178.8,306.4 179,304.2 179.3,304.4 179.5,302.9 179.7,299.5 180,302.7 180.2,302.3 180.4,301.3 180.7,304.8 180.9,306.2 181.1,301.2 181.4,296.7 181.6,301.1 181.8,299.6 182.1,302.7 182.3,299.4 182.5,297.5 182.8,300.2 183,299 183.2,298.1 183.5,299.4 183.7,303.5 184,300.2 184.2,296.7 184.4,301.8 184.7,299.1 184.9,301.8 185.1,300.5 185.4,304.5 185.6,299.9 185.8,299.5 186.1,301.5 186.3,297 186.5,298.4 186.8,297.4 187,299.4 187.2,303.4 187.5,302.4 187.7,300.6 187.9,302.9 188.2,301.6 188.4,300.2 188.6,304.3 188.9,298.3 189.1,296.6 189.3,299.2 189.6,298.9 189.8,297.6 190,300.5 190.3,299.4 190.5,297.5 190.7,297.5 191,298.5 191.2,299.6 191.5,299.5 191.7,297.1 191.9,300.6 192.2,299 192.4,300.6 192.6,302 192.9,301.1 193.1,297.8 193.3,300.8 193.6,298.4 193.8,300 194,298.8 194.3,299.5 194.5,300.1 194.7,302.7 195,300.4 195.2,300.9 195.4,300.4 195.7,302.9 195.9,300.9 196.1,302.5 196.4,299.6 196.6,302.1 196.8,300.6 197.1,300.3 197.3,302.8 197.5,302.7 197.8,305.6 198,297 198.2,301.9 198.5,303 198.7,301 199,303.1 199.2,301 199.4,299.8 199.7,299.5 199.9,299.8 200.1,299.7 200.4,306.3 200.6,302.5 200.8,297.7 201.1,297.4 201.3,299.9 201.5,300.2 201.8,297.4 202,300.7 202.2,299.4 202.5,294.4 202.7,298.9 202.9,301.5 203.2,299.1 203.4,302.3 203.6,305.8 203.9,303.5 204.1,307.2 204.3,301.5 204.6,301.7 204.8,306.3 205,305.5 205.3,302.8 205.5,302.7 205.7,302.2 206,301.6 206.2,304.6 206.5,305 206.7,305.6 206.9,306.3 207.2,302.6 207.4,301.1 207.6,303.2 207.9,306.3 208.1,304.3 208.3,307.7 208.6,305.3 208.8,305.2 209,307.3 209.3,301.5 209.5,302 209.7,306.8 210,304.3 210.2,304.4 210.4,303.1 210.7,305 210.9,307.4 211.1,304.7 211.4,303.9 211.6,304.3 211.8,304.9 212.1,301.9 212.3,305.6 212.5,305.1 212.8,305.5 213,305.5 213.2,306.7 213.5,305.8 213.7,308.6 214,306.2 214.2,307.7 214.4,307.7 214.7,304.1 214.9,305.7 215.1,303.4 215.4,304.7 215.6,304.2 215.8,301 216.1,304.2 216.3,303 216.5,303.3 216.8,308.4 217,305.2 217.2,308.3 217.5,304.2 217.7,302.5 217.9,304.7 218.2,307.1 218.4,303.7 218.6,306.5 218.9,302.3 219.1,308.5 219.3,303.8 219.6,304.7 219.8,306.8 220,303 220.3,302.8 220.5,305.5 220.7,302.9 221,303.4 221.2,301.3 221.5,303.4 221.7,306.4 221.9,303.1 222.2,303.9 222.4,302.3 222.6,307.8 222.9,303.5 223.1,306.2 223.3,303.1 223.6,306.2 223.8,304 224,303.7 224.3,302.9 224.5,303.4 224.7,304.9 225,305.6 225.2,307.7 225.4,305.9 225.7,304.2 225.9,307.3 226.1,306.2 226.4,301.7 226.6,307.8 226.8,306.5 227.1,306.5 227.3,303.8 227.5,307.4 227.8,305.9 228,302.2 228.2,302.1 228.5,304.8 228.7,303.9 228.9,306.6 229.2,304.6 229.4,304.5 229.7,302.7 229.9,303.2 230.1,305.4 230.4,306.2 230.6,305.5 230.8,306.5 231.1,307.5 231.3,305.5 231.5,301.8 231.8,306.6 232,301.7 232.2,301.5 232.5,306.8 232.7,306.5 232.9,306.4 233.2,303.4 233.4,302.5 233.6,300 233.9,304 234.1,302.8 234.3,307.1 234.6,302 234.8,303.7 235,305.7 235.3,304.9 235.5,304 235.7,304.1 236,302.9 236.2,302.3 236.4,303.5 236.7,303.2 236.9,303.6 237.2,306.9 237.4,306 237.6,305 237.9,306.7 238.1,304.9 238.3,302.8 238.6,306.5 238.8,301.9 239,302.4 239.3,304.8 239.5,302.2 239.7,302 240,305.8 240.2,301.6 240.4,306 240.7,305.3 240.9,304.9 241.1,301.7 241.4,304.7 241.6,307.6 241.8,303.6 242.1,305 242.3,306.7 242.5,306.4 242.8,304.6 243,308 243.2,308.6 243.5,303.2 243.7,300.9 243.9,306.5" fill="none" stroke="#000" stroke-width="1.35"/>
</g>
<rect x="126.2" y="249.7" width="156.1" height="68" fill="none" stroke="#111" stroke-width="1.3"/>
<path d="M126.2,283.3 H282.3" stroke="#111" stroke-width="1.3"/>
<path d="M124.8,254.3 H126.2 M124,263.4 H126.2 M124.8,272.6 H126.2 M124,281.6 H126.2 M124.8,287.8 H126.2 M124.8,292.2 H126.2 M124,296.6 H126.2 M124.8,301 H126.2 M124.8,305.4 H126.2 M124.8,309.8 H126.2 M124,314.2 H126.2 M126.3,317.7 V319.7 M165.4,317.7 V319.7 M204.4,317.7 V319.7 M243.5,317.7 V319.7 M282.5,317.7 V319.7 M145.8,317.7 V319 M184.9,317.7 V319 M223.9,317.7 V319 M263,317.7 V319" stroke="#111" stroke-width="1"/>
<text x="121.5" y="268" font-size="11" text-anchor="end" font-weight="normal" font-style="normal" fill="#000" >4</text>
<text x="121.5" y="288.8" font-size="11" text-anchor="end" font-weight="normal" font-style="normal" fill="#000" >0</text>
<text x="121.5" y="300.3" font-size="11" text-anchor="end" font-weight="normal" font-style="normal" fill="#000" >0.8</text>
<text x="121.5" y="318.2" font-size="11" text-anchor="end" font-weight="normal" font-style="normal" fill="#000" >0.0</text>
<clipPath id="cu1"><rect x="126.2" y="322.7" width="156.1" height="33.8"/></clipPath>
<clipPath id="cl1"><rect x="126.2" y="356.5" width="156.1" height="34"/></clipPath>
<g clip-path="url(#cu1)">
<polyline points="126.3,343 126.5,345.5 126.8,345.4 127,343 127.2,345 127.5,345.3 127.7,343 127.9,341.4 128.2,344.2 128.4,342.9 128.6,342.5 128.9,347.3 129.1,346.7 129.3,348.5 129.6,346.3 129.8,343.2 130,346.8 130.3,343.7 130.5,345 130.8,345.2 131,347.8 131.2,344.5 131.5,345.5 131.7,344.9 131.9,345.4 132.2,345.7 132.4,346.7 132.6,346 132.9,344.1 133.1,345.3 133.3,344.4 133.6,345.1 133.8,347.1 134,349.1 134.3,347.9 134.5,343.2 134.7,348.4 135,345.3 135.2,344.3 135.4,347.1 135.7,343.3 135.9,348.3 136.1,345.9 136.4,346 136.6,345.3 136.8,345.5 137.1,348.9 137.3,341.2 137.5,342.6 137.8,348.8 138,343.1 138.3,343.3 138.5,345.1 138.7,349.8 139,345.3 139.2,346.9 139.4,343.9 139.7,341.9 139.9,345.9 140.1,350.4 140.4,350.1 140.6,343.9 140.8,341.8 141.1,341 141.3,343.8 141.5,346.8 141.8,342.7 142,344.1 142.2,346.1 142.5,347.3 142.7,343.5 142.9,344.6 143.2,344.8 143.4,346.2 143.6,343.7 143.9,346 144.1,345 144.3,344.3 144.6,340.5 144.8,346.1 145,346 145.3,344.7 145.5,348.5 145.8,349.8 146,342.7 146.2,345.8 146.5,344.6 146.7,348.3 146.9,350.1 147.2,348.3 147.4,346.5 147.6,344.9 147.9,348.4 148.1,349.4 148.3,349.1 148.6,347.6 148.8,345.5 149,348 149.3,349.5 149.5,351.8 149.7,348.1 150,347.1 150.2,347.4 150.4,346.7 150.7,346.8 150.9,346.6 151.1,348.7 151.4,345.5 151.6,350.5 151.8,346.1 152.1,348.7 152.3,350.2 152.5,349.2 152.8,344.3 153,347.9 153.3,347 153.5,348.4 153.7,346.9 154,347.9 154.2,349.4 154.4,345.8 154.7,343.4 154.9,347.6 155.1,345.1 155.4,344.9 155.6,345.3 155.8,341.7 156.1,345.6 156.3,348.5 156.5,344.1 156.8,345.8 157,341.7 157.2,345.4 157.5,350.4 157.7,355.7 157.9,347.9 158.2,348.7 158.4,349.8 158.6,351.7 158.9,348.3 159.1,350.2 159.3,346.7 159.6,347.6 159.8,347.1 160,349.7 160.3,350.9 160.5,351 160.8,352.2 161,352.9 161.2,353.4 161.5,346.7 161.7,351.4 161.9,352.8 162.2,347.8 162.4,348.7 162.6,348.1 162.9,352.5 163.1,350.1 163.3,350.9 163.6,349.3 163.8,350.6 164,351.9 164.3,350.7 164.5,349.3 164.7,348.7 165,347.5 165.2,353.5 165.4,352.3 165.7,348.4 165.9,351.8 166.1,348.8 166.4,349.9 166.6,353.8 166.8,350.5 167.1,347.6 167.3,351.3 167.5,349.5 167.8,346.9 168,348 168.3,350.7 168.5,345.4 168.7,352 169,352.3 169.2,351.2 169.4,349.2 169.7,349.2 169.9,347 170.1,349.4 170.4,351.9 170.6,357.4 170.8,356.2 171.1,354.8 171.3,351.5 171.5,349.8 171.8,348.8 172,349.9 172.2,357.3 172.5,352 172.7,351.3 172.9,349.2 173.2,351.2 173.4,353.1 173.6,352.1 173.9,351.3 174.1,347.7 174.3,354.9 174.6,350.6 174.8,356.1 175,351 175.3,350.1 175.5,352.2 175.7,345.9 176,352 176.2,350.1 176.5,349.5 176.7,349.1 176.9,355 177.2,348.2 177.4,347.2 177.6,352.6 177.9,349.9 178.1,351.4 178.3,349.6 178.6,351.5 178.8,350.4 179,349.9 179.3,348.9 179.5,350.6 179.7,352.7 180,351.7 180.2,352 180.4,352.6 180.7,352.7 180.9,347 181.1,347.1 181.4,351.3 181.6,345.7 181.8,350.8 182.1,347 182.3,349.1 182.5,347.5 182.8,348.6 183,353.6 183.2,347.2 183.5,345.2 183.7,349 184,349.8 184.2,350.4 184.4,349.4 184.7,350.5 184.9,346.2 185.1,350.9 185.4,349.2 185.6,351.2 185.8,352 186.1,354.2 186.3,350.6 186.5,352.1 186.8,346.6 187,350.8 187.2,350.8 187.5,351.8 187.7,353.1 187.9,347.6 188.2,352.5 188.4,350 188.6,347.6 188.9,350.8 189.1,349.1 189.3,350.1 189.6,353.1 189.8,350.2 190,345.9 190.3,349.2 190.5,350.1 190.7,346.2 191,350.3 191.2,350.3 191.5,347.8 191.7,350 191.9,347.8 192.2,347.6 192.4,348.5 192.6,349.1 192.9,349.4 193.1,350.6 193.3,354.2 193.6,350.8 193.8,353.7 194,348.5 194.3,349 194.5,350.9 194.7,346.2 195,347.9 195.2,346.8 195.4,353.2 195.7,350.5 195.9,352.5 196.1,346.2 196.4,350.9 196.6,349.5 196.8,355 197.1,346.4 197.3,348.7 197.5,350.3 197.8,350.2 198,350.1 198.2,346.4 198.5,353 198.7,350.6 199,350.8 199.2,347.3 199.4,345.6 199.7,354.7 199.9,353.8 200.1,351.6 200.4,349.3 200.6,349.8 200.8,354.6 201.1,352.2 201.3,349.7 201.5,349.9 201.8,352.8 202,350.9 202.2,350.1 202.5,350 202.7,354.7 202.9,349.3 203.2,349.2 203.4,347.6 203.6,349.7 203.9,350.5 204.1,351.5 204.3,351.6 204.6,351.9 204.8,350.1 205,350.7 205.3,346.5 205.5,349.3 205.7,348.1 206,349.7 206.2,352 206.5,349.7 206.7,352.4 206.9,350.4 207.2,353.7 207.4,353.4 207.6,346.6 207.9,351.1 208.1,352.2 208.3,351.9 208.6,350.9 208.8,351.2 209,344.6 209.3,348.5 209.5,350 209.7,346.6 210,351.5 210.2,348.6 210.4,349.6 210.7,354.1 210.9,342.6 211.1,342.1 211.4,344.5 211.6,348.3 211.8,341.7 212.1,343.2 212.3,342.6 212.5,346.7 212.8,342.1 213,340.7 213.2,348.1 213.5,349.2 213.7,350.7 214,348.8 214.2,348.8 214.4,355.5 214.7,348.4 214.9,353.8 215.1,353.7 215.4,352.3 215.6,353.2 215.8,348.2 216.1,354.7 216.3,350.2 216.5,355.6 216.8,351.6 217,351.3 217.2,354.4 217.5,349.2 217.7,350.4 217.9,347.4 218.2,349.5 218.4,354.3 218.6,352.7 218.9,351.2 219.1,350.6 219.3,352.3 219.6,354.7 219.8,350.5 220,351.6 220.3,345.8 220.5,341.7 220.7,344.4 221,345 221.2,341.5 221.5,342.7 221.7,343 221.9,344 222.2,344.2 222.4,341.5 222.6,350.9 222.9,354.2 223.1,351.3 223.3,344.8 223.6,347.2 223.8,350.5 224,348.2 224.3,348.9 224.5,347.1 224.7,347.9 225,350.1 225.2,346.2 225.4,349.6 225.7,350 225.9,345.3 226.1,353.5 226.4,351.8 226.6,347.4 226.8,346.9 227.1,348.4 227.3,349.7 227.5,351.8 227.8,349.1 228,350.9 228.2,347.5 228.5,350.5 228.7,352.9 228.9,354.7 229.2,350.9 229.4,349.6 229.7,342.8 229.9,348.7 230.1,350.6 230.4,350.1 230.6,352.4 230.8,351.6 231.1,349.7 231.3,346.2 231.5,351.6 231.8,348.3 232,349.4 232.2,350.5 232.5,350.3 232.7,350 232.9,347.1 233.2,352.4 233.4,350.8 233.6,351.3 233.9,350.8 234.1,350.9 234.3,349.4 234.6,349.2 234.8,352.2 235,350.6 235.3,352.1 235.5,352.6 235.7,348.5 236,350.1 236.2,347 236.4,349.8 236.7,350.8 236.9,349.7 237.2,349.4 237.4,350.9 237.6,349.7 237.9,351.1 238.1,349.9 238.3,351.6 238.6,350 238.8,349.7 239,353.9 239.3,347.2 239.5,350.3 239.7,346.2 240,352.6 240.2,353 240.4,344.1 240.7,348.4 240.9,350 241.1,349.7 241.4,353.2 241.6,352.4 241.8,352.2 242.1,350.6 242.3,345.5 242.5,350.1 242.8,351.4 243,346.3 243.2,350.8 243.5,349.5 243.7,350 243.9,348.6 244.2,347.3 244.4,351.3 244.7,355.7 244.9,349.4 245.1,351.7 245.4,350.4 245.6,349.9 245.8,352.7 246.1,349.4 246.3,354.1 246.5,348.2 246.8,354.3 247,353.9 247.2,348.7 247.5,354.2 247.7,353.6 247.9,351.5 248.2,353.8 248.4,351.9 248.6,353.5 248.9,355.2 249.1,352 249.3,352.7 249.6,353.4 249.8,352 250,350.1 250.3,350 250.5,355.9 250.7,348.9 251,350.6 251.2,351 251.4,346.9 251.7,351.8 251.9,350.1 252.2,349.9 252.4,350.4 252.6,347.6 252.9,350.5 253.1,349.1 253.3,351.3 253.6,351.4 253.8,350.7 254,351 254.3,349.9 254.5,349.3 254.7,346.7 255,352.9 255.2,346.5 255.4,352 255.7,348.8 255.9,347.1 256.1,345.2 256.4,347.9 256.6,345.8 256.8,353.5 257.1,352.8 257.3,352 257.5,349.1 257.8,350.8 258,345.7 258.2,348.2 258.5,346.7 258.7,351.1 258.9,352.2 259.2,352.3 259.4,349.6 259.7,352.4 259.9,347.1 260.1,349.7 260.4,347.8 260.6,349.8 260.8,351.9 261.1,352.2 261.3,353 261.5,350.6 261.8,349.9 262,355 262.2,351.8 262.5,350 262.7,352.5 262.9,349 263.2,355.4 263.4,354.3 263.6,351.3 263.9,349.5 264.1,352.3 264.3,352.2 264.6,350.6 264.8,353.7 265,354.3 265.3,351.4 265.5,348.8 265.7,346.3 266,348.9 266.2,347.6 266.4,352.6 266.7,350.9 266.9,348 267.2,348.3 267.4,350.3 267.6,348.1 267.9,352.1 268.1,348.9 268.3,349.1 268.6,346.8 268.8,345.1 269,352.6 269.3,349.6 269.5,348.9 269.7,353.1 270,348.9 270.2,351.7 270.4,353.6 270.7,359.2 270.9,350.5 271.1,346.9 271.4,352 271.6,351.1 271.8,347.1 272.1,345.7 272.3,349.9 272.5,352.7 272.8,356.1 273,354.3 273.2,349.4 273.5,351.1 273.7,345.8 273.9,350.9 274.2,350.7 274.4,351.6 274.6,347.5 274.9,354.9 275.1,351.7 275.4,342 275.6,344 275.8,339.5 276.1,340.5 276.3,338.7 276.5,338.9 276.8,338.1 277,337.9 277.2,340.3 277.5,341.4 277.7,341.7 277.9,339.9 278.2,338.1 278.4,339.7 278.6,340.3 278.9,336.5 279.1,339.1 279.3,340.2 279.6,342.6 279.8,339.9 280,341 280.3,341.1 280.5,338.4 280.7,340.7 281,342.3 281.2,341.4 281.4,344.7 281.7,342.1 281.9,341.9 282.1,341.7 282.4,338.9" fill="none" stroke="#14f014" stroke-width="1.2"/>
<polyline points="126.3,337.8 126.5,335.3 126.8,338 127,337 127.2,338.7 127.5,337.1 127.7,337.3 127.9,335.5 128.2,339.1 128.4,339.3 128.6,339.6 128.9,339.2 129.1,340.2 129.3,340.5 129.6,342.3 129.8,339.6 130,338 130.3,341.8 130.5,338.7 130.8,337.4 131,340.7 131.2,339.6 131.5,334.6 131.7,340.9 131.9,337.1 132.2,335.8 132.4,338.4 132.6,339.9 132.9,337.3 133.1,337.6 133.3,341.1 133.6,335.2 133.8,334.8 134,338.1 134.3,337.2 134.5,334.2 134.7,338.5 135,334 135.2,337.8 135.4,335.8 135.7,340.2 135.9,338.9 136.1,339.9 136.4,336.8 136.6,339.4 136.8,338.1 137.1,334.8 137.3,336.9 137.5,335.1 137.8,338.9 138,335.9 138.3,342.4 138.5,333.6 138.7,336.3 139,337.3 139.2,337.2 139.4,336.7 139.7,334.8 139.9,341.6 140.1,336.3 140.4,339.8 140.6,334.4 140.8,342 141.1,334.7 141.3,336.2 141.5,337.8 141.8,337.2 142,338.6 142.2,340.1 142.5,333.8 142.7,338.2 142.9,337.6 143.2,331.4 143.4,337.7 143.6,334.4 143.9,342.4 144.1,339.1 144.3,336.5 144.6,338.4 144.8,338.8 145,339.3 145.3,339 145.5,336.9 145.8,335 146,337.9 146.2,331.9 146.5,340 146.7,341.2 146.9,339.6 147.2,339.9 147.4,338.1 147.6,338.9 147.9,336.5 148.1,340.3 148.3,341 148.6,340.5 148.8,339.9 149,338 149.3,340.7 149.5,336.3 149.7,340.3 150,335.2 150.2,339 150.4,339.3 150.7,335.2 150.9,336.3 151.1,339.8 151.4,338.8 151.6,341.3 151.8,339 152.1,339.1 152.3,340.8 152.5,337.9 152.8,338.4 153,335.5 153.3,340.3 153.5,338.7 153.7,334.6 154,333 154.2,332.3 154.4,336.3 154.7,337.2 154.9,334 155.1,334.3 155.4,335.8 155.6,335 155.8,337.6 156.1,336.9 156.3,337 156.5,334.7 156.8,337.3 157,337.8 157.2,338.1 157.5,335.6 157.7,337.1 157.9,335.4 158.2,336.2 158.4,337.7 158.6,338.1 158.9,333.5 159.1,338.9 159.3,334.7 159.6,337.7 159.8,341.5 160,339.9 160.3,337.4 160.5,340.3 160.8,338.7 161,339.1 161.2,336.5 161.5,335.7 161.7,337.5 161.9,339.2 162.2,338.1 162.4,339 162.6,337.9 162.9,341.4 163.1,338.6 163.3,337.4 163.6,338.8 163.8,342.1 164,340.2 164.3,338.3 164.5,336 164.7,339.3 165,338.8 165.2,342.7 165.4,336.5 165.7,333.9 165.9,340.5 166.1,334.6 166.4,337.5 166.6,337.8 166.8,339.5 167.1,337.2 167.3,334.1 167.5,340.1 167.8,333.2 168,339 168.3,333 168.5,337.7 168.7,339 169,338 169.2,341.5 169.4,337.1 169.7,338.5 169.9,334.6 170.1,334.8 170.4,336.5 170.6,339.8 170.8,336.4 171.1,333.5 171.3,337.3 171.5,338.9 171.8,337.9 172,339.9 172.2,336.5 172.5,337 172.7,333.6 172.9,338 173.2,336.2 173.4,336.1 173.6,339.3 173.9,335 174.1,339.2 174.3,338.4 174.6,335.7 174.8,339.5 175,340.3 175.3,339.5 175.5,336.9 175.7,338.7 176,335.5 176.2,336.5 176.5,335.5 176.7,341.8 176.9,339 177.2,338.2 177.4,340.7 177.6,341.3 177.9,338 178.1,339.4 178.3,335.7 178.6,337.4 178.8,338 179,336.2 179.3,338.3 179.5,342 179.7,342.7 180,340.4 180.2,338.7 180.4,339.6 180.7,339.9 180.9,337.4 181.1,336.2 181.4,338.7 181.6,339.1 181.8,334.3 182.1,336.6 182.3,339.2 182.5,339.1 182.8,336.7 183,335.6 183.2,337.7 183.5,331.6 183.7,337.5 184,337.7 184.2,340.5 184.4,342.1 184.7,340.7 184.9,336 185.1,336.2 185.4,336.7 185.6,340.4 185.8,337.1 186.1,339.4 186.3,336.5 186.5,338 186.8,335.9 187,337.9 187.2,338.2 187.5,337 187.7,338.9 187.9,336.5 188.2,338 188.4,337.4 188.6,337 188.9,336.9 189.1,333.7 189.3,338.6 189.6,336.6 189.8,335.2 190,336.6 190.3,334.3 190.5,340.4 190.7,337.1 191,337.2 191.2,337.2 191.5,337.2 191.7,337.1 191.9,337.5 192.2,336.5 192.4,337.7 192.6,335.9 192.9,337.6 193.1,339.1 193.3,336.9 193.6,338 193.8,337.1 194,334.7 194.3,338.4 194.5,337.2 194.7,339.4 195,339.6 195.2,334.3 195.4,342.7 195.7,337.6 195.9,339.6 196.1,339.5 196.4,339.9 196.6,335.1 196.8,337.5 197.1,338.3 197.3,336.6 197.5,339.3 197.8,339.4 198,334 198.2,340.3 198.5,335.7 198.7,332.9 199,337 199.2,335.5 199.4,336.8 199.7,339.5 199.9,337.7 200.1,340.8 200.4,337.4 200.6,334.3 200.8,342 201.1,338.2 201.3,336.3 201.5,339.4 201.8,334.5 202,338.3 202.2,338.7 202.5,340.8 202.7,337.8 202.9,339.1 203.2,335.4 203.4,334.9 203.6,335.4 203.9,340.1 204.1,334.7 204.3,341.6 204.6,334 204.8,340.7 205,338.6 205.3,337.7 205.5,341.1 205.7,335 206,338.9 206.2,339.2 206.5,338.1 206.7,336.1 206.9,335 207.2,337.4 207.4,343.6 207.6,338.3 207.9,338.3 208.1,340.9 208.3,337.2 208.6,336 208.8,334.8 209,338.7 209.3,338.1 209.5,337.5 209.7,337.1 210,336.4 210.2,334.2 210.4,336.4 210.7,341.3 210.9,346.9 211.1,350.2 211.4,350.9 211.6,349.6 211.8,349.3 212.1,342.7 212.3,351.4 212.5,346.5 212.8,349.5 213,347.8 213.2,347.1 213.5,340.2 213.7,338.8 214,341.9 214.2,338.7 214.4,334.8 214.7,339 214.9,337.7 215.1,340.8 215.4,339.8 215.6,338.5 215.8,339.5 216.1,332.2 216.3,337.5 216.5,340.9 216.8,333.9 217,336.6 217.2,338.6 217.5,335.8 217.7,340.9 217.9,335.8 218.2,337 218.4,335 218.6,334.4 218.9,336 219.1,337 219.3,333.8 219.6,337.9 219.8,335.1 220,336 220.3,347.6 220.5,348.2 220.7,349.2 221,350 221.2,349.3 221.5,350.6 221.7,349.2 221.9,349.9 222.2,348.9 222.4,351.2 222.6,336.8 222.9,340 223.1,336.1 223.3,333.9 223.6,334.1 223.8,337.3 224,337 224.3,337.9 224.5,341.4 224.7,343.2 225,334.7 225.2,338.7 225.4,338 225.7,333.9 225.9,336.4 226.1,338.5 226.4,342.1 226.6,338.3 226.8,328.7 227.1,335.6 227.3,339.2 227.5,338.3 227.8,336.3 228,339.2 228.2,339.5 228.5,336.8 228.7,338.7 228.9,340.2 229.2,338.5 229.4,337.3 229.7,337.6 229.9,339.9 230.1,342.1 230.4,339 230.6,337.8 230.8,336 231.1,338.6 231.3,339 231.5,336.6 231.8,339.2 232,335 232.2,341.3 232.5,337.6 232.7,340.2 232.9,340.6 233.2,338.9 233.4,334 233.6,336 233.9,337.7 234.1,342.5 234.3,339.7 234.6,335.9 234.8,343.5 235,335.8 235.3,337.4 235.5,337.1 235.7,340.5 236,343 236.2,342.3 236.4,337.4 236.7,339.1 236.9,335.1 237.2,336.6 237.4,336.5 237.6,339.3 237.9,336.6 238.1,338.8 238.3,336.1 238.6,337.2 238.8,334.7 239,336.1 239.3,338.6 239.5,340 239.7,335.7 240,340.6 240.2,335.7 240.4,337.7 240.7,337.3 240.9,336.6 241.1,338.2 241.4,336.4 241.6,340.5 241.8,344.7 242.1,338.5 242.3,335.5 242.5,340.7 242.8,339.1 243,340.5 243.2,338 243.5,342.4 243.7,339.7 243.9,338.1 244.2,338.1 244.4,338.6 244.7,335.1 244.9,336.1 245.1,336.5 245.4,339.3 245.6,337.5 245.8,338.8 246.1,341.8 246.3,335.4 246.5,339.1 246.8,339.4 247,339.7 247.2,335.6 247.5,337.6 247.7,338.8 247.9,335 248.2,337.9 248.4,337.5 248.6,338.1 248.9,333.7 249.1,336.2 249.3,339.1 249.6,336.1 249.8,334.8 250,334.7 250.3,339.1 250.5,337.8 250.7,335.1 251,339.1 251.2,337.7 251.4,332.3 251.7,335.9 251.9,333.9 252.2,335.1 252.4,337.9 252.6,335.2 252.9,337.4 253.1,336.8 253.3,335.9 253.6,335.8 253.8,336.8 254,336.7 254.3,335.6 254.5,337.4 254.7,337.8 255,338.4 255.2,336.6 255.4,341.5 255.7,336.5 255.9,335.7 256.1,337.3 256.4,332.5 256.6,335.7 256.8,338.2 257.1,335.5 257.3,335.6 257.5,338.2 257.8,337.8 258,334.4 258.2,334.2 258.5,335.4 258.7,338.6 258.9,340.1 259.2,339.8 259.4,336.2 259.7,340.2 259.9,339.3 260.1,339 260.4,340.3 260.6,339 260.8,339.6 261.1,338.7 261.3,334.9 261.5,339.4 261.8,339.6 262,336.9 262.2,338.6 262.5,337.8 262.7,340.9 262.9,338 263.2,338.5 263.4,335.1 263.6,339 263.9,344.6 264.1,339.8 264.3,341.7 264.6,339.3 264.8,335 265,341.9 265.3,339.4 265.5,337 265.7,340 266,340.2 266.2,339.5 266.4,340.7 266.7,335.7 266.9,338.7 267.2,335.1 267.4,337.1 267.6,339.4 267.9,336.6 268.1,341 268.3,335.7 268.6,339.7 268.8,334 269,337.7 269.3,333.4 269.5,340.5 269.7,336.1 270,336.6 270.2,334 270.4,338.1 270.7,335.9 270.9,338 271.1,336.8 271.4,338 271.6,336.3 271.8,337.4 272.1,337.2 272.3,337.6 272.5,336.4 272.8,340.1 273,336.4 273.2,336.7 273.5,340.1 273.7,336.2 273.9,341.1 274.2,334.6 274.4,336.9 274.6,339.5 274.9,338.7 275.1,340.6 275.4,356.2 275.6,344.5 275.8,352.9 276.1,354 276.3,352 276.5,354.5 276.8,352.5 277,353.4 277.2,354.3 277.5,353 277.7,352 277.9,352.6 278.2,355.4 278.4,353.9 278.6,351.9 278.9,355.6 279.1,354.4 279.3,353.1 279.6,351.6 279.8,351.7 280,354 280.3,353.1 280.5,350.7 280.7,355.1 281,350.1 281.2,351.2 281.4,355.8 281.7,353.1 281.9,353.5 282.1,352.2 282.4,351.9" fill="none" stroke="#0808f0" stroke-width="1.2"/>
</g><g clip-path="url(#cl1)">
<polyline points="126.3,369.9 126.5,366.3 126.8,367.9 127,369.5 127.2,367.1 127.5,371.6 127.7,367.1 127.9,368.6 128.2,368.4 128.4,370.3 128.6,365.1 128.9,369.1 129.1,363.7 129.3,367.7 129.6,367.5 129.8,369.6 130,367.1 130.3,368.5 130.5,365.9 130.8,369.2 131,364.9 131.2,367.8 131.5,368.7 131.7,367.7 131.9,368 132.2,367.8 132.4,370 132.6,368.1 132.9,367 133.1,369.6 133.3,368.5 133.6,368.6 133.8,369 134,369.6 134.3,365.7 134.5,369.6 134.7,371 135,369.8 135.2,369.5 135.4,364.7 135.7,369.2 135.9,367.8 136.1,372.1 136.4,370.6 136.6,366.9 136.8,369.1 137.1,368.6 137.3,366.7 137.5,366.8 137.8,367.2 138,368.5 138.3,367.3 138.5,367.8 138.7,373.3 139,370 139.2,370 139.4,366.5 139.7,369.8 139.9,370.9 140.1,369.7 140.4,368.3 140.6,370.6 140.8,368.2 141.1,367.7 141.3,369.7 141.5,368.2 141.8,367.3 142,367.2 142.2,369.2 142.5,365.5 142.7,371.5 142.9,372.3 143.2,369.7 143.4,369.9 143.6,369.2 143.9,369.7 144.1,372.4 144.3,367.4 144.6,373.2 144.8,370.4 145,372.4 145.3,369.3 145.5,370.4 145.8,367.9 146,370.3 146.2,370.5 146.5,370.8 146.7,366 146.9,372.2 147.2,365.8 147.4,370.5 147.6,368.7 147.9,366.3 148.1,369.2 148.3,370.5 148.6,366.8 148.8,369 149,368.5 149.3,368.4 149.5,367 149.7,370.2 150,370.1 150.2,370.2 150.4,367.9 150.7,368.5 150.9,370.7 151.1,368.5 151.4,367.9 151.6,368.8 151.8,370.9 152.1,369.9 152.3,368.5 152.5,364.8 152.8,368.4 153,368.2 153.3,369.4 153.5,369.6 153.7,368.3 154,369.4 154.2,370.3 154.4,367.7 154.7,370.4 154.9,372.1 155.1,369.5 155.4,368.9 155.6,370.5 155.8,370.9 156.1,369.5 156.3,370 156.5,370.8 156.8,367.7 157,371.2 157.2,361.4 157.5,365.9 157.7,365.7 157.9,365.7 158.2,367.3 158.4,363.2 158.6,367.7 158.9,365.7 159.1,364.5 159.3,364.2 159.6,367.8 159.8,364.5 160,361.5 160.3,364.2 160.5,365.3 160.8,363.1 161,367 161.2,365.7 161.5,363.4 161.7,362.1 161.9,363.7 162.2,366 162.4,361.5 162.6,366.1 162.9,363.4 163.1,366.7 163.3,364.9 163.6,364.8 163.8,371.9 164,364.1 164.3,364.1 164.5,364.9 164.7,363.6 165,365 165.2,365.8 165.4,364.3 165.7,364.2 165.9,362.3 166.1,363.9 166.4,366.4 166.6,364.9 166.8,367.2 167.1,364.5 167.3,364.1 167.5,364.2 167.8,366.9 168,363.4 168.3,365.4 168.5,361.9 168.7,362.8 169,364.1 169.2,370.7 169.4,366.8 169.7,361.8 169.9,364.1 170.1,361.8 170.4,366.4 170.6,366.8 170.8,364.3 171.1,363.7 171.3,366.9 171.5,367.8 171.8,364.8 172,366.6 172.2,366.5 172.5,365.6 172.7,363.7 172.9,363.8 173.2,365.4 173.4,369.3 173.6,368.3 173.9,365.1 174.1,366.2 174.3,365.9 174.6,366.6 174.8,367.6 175,366.4 175.3,370.5 175.5,364.8 175.7,365.8 176,365.4 176.2,365.3 176.5,363.5 176.7,367 176.9,367.1 177.2,367.3 177.4,367.4 177.6,367.2 177.9,365.2 178.1,364.1 178.3,365.1 178.6,363.6 178.8,367.7 179,365 179.3,364 179.5,363.5 179.7,365.2 180,367.1 180.2,362.9 180.4,363.4 180.7,367.2 180.9,367.2 181.1,364.2 181.4,363.3 181.6,367.3 181.8,366.3 182.1,362.8 182.3,364.1 182.5,365.5 182.8,365.9 183,360.7 183.2,363.5 183.5,365.3 183.7,366 184,363.5 184.2,364.2 184.4,367.6 184.7,366.6 184.9,364.9 185.1,365.2 185.4,368.3 185.6,367.1 185.8,364.5 186.1,364.4 186.3,363.2 186.5,366.8 186.8,364.5 187,366.4 187.2,362.9 187.5,368.6 187.7,366.1 187.9,365.7 188.2,363.2 188.4,368 188.6,364.5 188.9,368.2 189.1,366.1 189.3,366.7 189.6,362 189.8,364.4 190,367.4 190.3,367.7 190.5,366.2 190.7,366.8 191,364.9 191.2,369.9 191.5,364.3 191.7,366.8 191.9,364.5 192.2,363.4 192.4,363.8 192.6,362.4 192.9,363.7 193.1,365.7 193.3,369.1 193.6,368.7 193.8,368.2 194,366.5 194.3,364 194.5,367.1 194.7,365.2 195,365.9 195.2,367.4 195.4,368.6 195.7,367 195.9,365.3 196.1,363.3 196.4,367.3 196.6,364.8 196.8,365.2 197.1,364.9 197.3,365.5 197.5,366.1 197.8,366.8 198,364.1 198.2,365.6 198.5,363.4 198.7,366.6 199,366 199.2,365.8 199.4,365.1 199.7,362.6 199.9,362.5 200.1,363.9 200.4,366.2 200.6,363.2 200.8,361 201.1,366 201.3,363.1 201.5,362 201.8,367.5 202,363.7 202.2,365.4 202.5,363.1 202.7,366.9 202.9,365 203.2,362.7 203.4,363.5 203.6,364.6 203.9,367.7 204.1,365.9 204.3,366.9 204.6,367.2 204.8,364.8 205,363.9 205.3,367.2 205.5,364.6 205.7,366.4 206,365.8 206.2,366 206.5,364.9 206.7,365.2 206.9,368.5 207.2,366.5 207.4,366.6 207.6,369.6 207.9,366.9 208.1,366.9 208.3,365.3 208.6,367.4 208.8,363.8 209,367.4 209.3,364.6 209.5,365.2 209.7,364.1 210,367.2 210.2,370.8 210.4,364.9 210.7,364.8 210.9,378.4 211.1,380.6 211.4,376.9 211.6,383.3 211.8,378.5 212.1,379 212.3,380.1 212.5,382 212.8,377.7 213,378.9 213.2,379 213.5,362.2 213.7,365.3 214,368.1 214.2,364.7 214.4,366.8 214.7,365.2 214.9,366.7 215.1,365.1 215.4,365.6 215.6,366.7 215.8,362 216.1,363.3 216.3,364.8 216.5,365.7 216.8,365.6 217,367.4 217.2,362.4 217.5,362.8 217.7,364.2 217.9,365.1 218.2,364.7 218.4,364.3 218.6,362.8 218.9,363.9 219.1,367.7 219.3,365.2 219.6,364.2 219.8,360.5 220,363.8 220.3,375.6 220.5,380.3 220.7,380.2 221,380.7 221.2,380.7 221.5,382.7 221.7,378.9 221.9,383.7 222.2,380.9 222.4,379 222.6,366.6 222.9,366.5 223.1,366.9 223.3,365.2 223.6,364 223.8,362.9 224,367.4 224.3,364 224.5,365.3 224.7,365.9 225,366.2 225.2,363.3 225.4,367.7 225.7,365.1 225.9,365 226.1,365.8 226.4,367.8 226.6,362.6 226.8,365.7 227.1,369.9 227.3,363.1 227.5,362.7 227.8,365.9 228,363.3 228.2,364.1 228.5,362.9 228.7,366.6 228.9,362.8 229.2,365 229.4,362.4 229.7,364.5 229.9,364.9 230.1,366 230.4,367.7 230.6,368.1 230.8,368.5 231.1,367.3 231.3,366.7 231.5,367.2 231.8,366.5 232,366.3 232.2,363.8 232.5,365.5 232.7,366 232.9,364.4 233.2,363.2 233.4,366.1 233.6,364.3 233.9,363.1 234.1,364.8 234.3,368 234.6,365.5 234.8,366.1 235,362.3 235.3,368.4 235.5,365.2 235.7,365.5 236,368.3 236.2,366.4 236.4,367.8 236.7,365.8 236.9,368.9 237.2,366.5 237.4,367.6 237.6,367.6 237.9,369.6 238.1,366.8 238.3,368.3 238.6,363.6 238.8,365 239,366 239.3,363.5 239.5,367.3 239.7,364.6 240,367.4 240.2,368.4 240.4,366.8 240.7,369 240.9,366.4 241.1,366.7 241.4,366.8 241.6,366.8 241.8,364.9 242.1,362.4 242.3,367.7 242.5,361.2 242.8,360.9 243,363.3 243.2,369.3 243.5,368 243.7,364.8 243.9,363.6 244.2,363.9 244.4,363.4 244.7,366 244.9,363.6 245.1,366.1 245.4,363.2 245.6,364.1 245.8,364.9 246.1,360.1 246.3,364 246.5,361.3 246.8,367.6 247,366 247.2,363.3 247.5,367.2 247.7,364 247.9,364.7 248.2,364.9 248.4,365.9 248.6,366.4 248.9,367.3 249.1,366.1 249.3,363.6 249.6,366.3 249.8,366.3 250,366.9 250.3,368.3 250.5,364.4 250.7,365.1 251,364.5 251.2,364.8 251.4,364.9 251.7,365.4 251.9,364.9 252.2,368.9 252.4,361.2 252.6,366.6 252.9,365.8 253.1,365.4 253.3,369.8 253.6,368.1 253.8,365.4 254,365.5 254.3,363.9 254.5,365.2 254.7,365 255,364.7 255.2,367.2 255.4,367.4 255.7,366.6 255.9,364.6 256.1,363.1 256.4,365.1 256.6,365.9 256.8,364.7 257.1,367.6 257.3,368.8 257.5,368.8 257.8,364.1 258,372.1 258.2,365.1 258.5,366.5 258.7,367.4 258.9,364.7 259.2,365.8 259.4,364.6 259.7,366.6 259.9,365.6 260.1,369.1 260.4,362.3 260.6,364.8 260.8,365.3 261.1,364.9 261.3,370.4 261.5,365.1 261.8,363.2 262,365.9 262.2,364 262.5,365.8 262.7,365.1 262.9,362.4 263.2,360.7 263.4,363.1 263.6,364.7 263.9,364.5 264.1,365.8 264.3,364.5 264.6,363.6 264.8,363.6 265,369.2 265.3,364.9 265.5,363.4 265.7,363.9 266,363.3 266.2,364.5 266.4,363.1 266.7,364.2 266.9,365 267.2,363.8 267.4,363.8 267.6,365.6 267.9,365.1 268.1,367.1 268.3,363.3 268.6,365.3 268.8,362.2 269,367.4 269.3,368.5 269.5,368.3 269.7,369.6 270,362.2 270.2,366 270.4,366.4 270.7,366.4 270.9,366.5 271.1,367.9 271.4,367 271.6,366.9 271.8,365.3 272.1,363.6 272.3,365.7 272.5,365.5 272.8,368.4 273,364.7 273.2,364.7 273.5,365.6 273.7,366.9 273.9,367.2 274.2,368.6 274.4,366.3 274.6,365.4 274.9,365.3 275.1,363.9" fill="none" stroke="#000" stroke-width="1.35"/>
</g>
<rect x="126.2" y="322.7" width="156.1" height="67.8" fill="none" stroke="#111" stroke-width="1.3"/>
<path d="M126.2,356.5 H282.3" stroke="#111" stroke-width="1.3"/>
<path d="M124.8,327.9 H126.2 M124,337.1 H126.2 M124.8,345.5 H126.2 M124,354.4 H126.2 M124.8,360.4 H126.2 M124.8,364.6 H126.2 M124,368.8 H126.2 M124.8,373 H126.2 M124.8,377.2 H126.2 M124.8,381.4 H126.2 M124,385.6 H126.2 M126.3,390.5 V392.5 M165.4,390.5 V392.5 M204.4,390.5 V392.5 M243.5,390.5 V392.5 M282.5,390.5 V392.5 M145.8,390.5 V391.8 M184.9,390.5 V391.8 M223.9,390.5 V391.8 M263,390.5 V391.8" stroke="#111" stroke-width="1"/>
<text x="121.5" y="338" font-size="11" text-anchor="end" font-weight="normal" font-style="normal" fill="#000" >4</text>
<text x="121.5" y="359.8" font-size="11" text-anchor="end" font-weight="normal" font-style="normal" fill="#000" >0</text>
<text x="121.5" y="371.3" font-size="11" text-anchor="end" font-weight="normal" font-style="normal" fill="#000" >0.8</text>
<text x="121.5" y="388.8" font-size="11" text-anchor="end" font-weight="normal" font-style="normal" fill="#000" >0.0</text>
<clipPath id="cu2"><rect x="126.2" y="398.6" width="156.1" height="33.8"/></clipPath>
<clipPath id="cl2"><rect x="126.2" y="432.4" width="156.1" height="33.2"/></clipPath>
<g clip-path="url(#cu2)">
<polyline points="126.3,424.6 126.5,423.7 126.8,423.7 127,428.3 127.2,427 127.5,426.7 127.7,426.7 127.9,425.1 128.2,426.4 128.4,425.3 128.6,427.4 128.9,427.2 129.1,425.8 129.3,426.4 129.6,423.1 129.8,423.6 130,425.7 130.3,427.1 130.5,424.5 130.8,426.8 131,428.2 131.2,417.7 131.5,419.5 131.7,418.8 131.9,422.9 132.2,421.7 132.4,422.6 132.6,418.6 132.9,422.9 133.1,418.7 133.3,420 133.6,426 133.8,424.8 134,425.1 134.3,420.7 134.5,423.9 134.7,426.3 135,426.3 135.2,424 135.4,425.2 135.7,423.2 135.9,426.2 136.1,420.4 136.4,424.8 136.6,429.3 136.8,424.5 137.1,425.6 137.3,423.7 137.5,418.3 137.8,425.5 138,423 138.3,422.7 138.5,420.6 138.7,427.3 139,425 139.2,422.5 139.4,425.9 139.7,428.8 139.9,423.2 140.1,421.4 140.4,424.7 140.6,425.3 140.8,425 141.1,419.8 141.3,421.9 141.5,420 141.8,418.3 142,419.2 142.2,419.6 142.5,419.3 142.7,418.9 142.9,418.4 143.2,425.5 143.4,420.6 143.6,425.4 143.9,423.1 144.1,423.2 144.3,422.2 144.6,424 144.8,425.5 145,428 145.3,423 145.5,422.7 145.8,426.1 146,422.1 146.2,426.6 146.5,423.7 146.7,422.8 146.9,421.8 147.2,420.2 147.4,427.1 147.6,420.9 147.9,418.6 148.1,424.7 148.3,423.9 148.6,423.5 148.8,423.8 149,421.9 149.3,425.5 149.5,426.3 149.7,420.2 150,425 150.2,420 150.4,424 150.7,427.4 150.9,422.4 151.1,423.6 151.4,419 151.6,423.6 151.8,427.5 152.1,421.5 152.3,422.3 152.5,421.6 152.8,423.2 153,425.7 153.3,421.8 153.5,427.4 153.7,422.2 154,420.7 154.2,423.3 154.4,419.4 154.7,419 154.9,424.5 155.1,422.4 155.4,422.7 155.6,422.7 155.8,424.7 156.1,424 156.3,428.1 156.5,425.1 156.8,429 157,422.8 157.2,419.9 157.5,422 157.7,423.4 157.9,429.5 158.2,421.1 158.4,423.3 158.6,426.8 158.9,425 159.1,425.8 159.3,423.7 159.6,420.2 159.8,426.8 160,425.9 160.3,429.7 160.5,425.1 160.8,424.5 161,424.5 161.2,425.2 161.5,424.1 161.7,427.5 161.9,423.8 162.2,422.8 162.4,422.7 162.6,423.4 162.9,422.3 163.1,424.2 163.3,423 163.6,424.7 163.8,425.2 164,421.5 164.3,427.5 164.5,419.1 164.7,423.5 165,421 165.2,423.3 165.4,422.5 165.7,424.3 165.9,425.5 166.1,427 166.4,423.2 166.6,422.9 166.8,423.1 167.1,426.3 167.3,430.3 167.5,421.1 167.8,423.3 168,419.3 168.3,423.8 168.5,420.9 168.7,423.9 169,423 169.2,424 169.4,428.3 169.7,423.1 169.9,425.9 170.1,422.4 170.4,426.1 170.6,423.3 170.8,421.7 171.1,429.7 171.3,423.8 171.5,422.1 171.8,422.8 172,427.6 172.2,422.7 172.5,427.2 172.7,420.2 172.9,426.2 173.2,425.2 173.4,425.3 173.6,420 173.9,421.5 174.1,420.8 174.3,427.5 174.6,424.1 174.8,419.9 175,422.2 175.3,424.3 175.5,422.2 175.7,423.3 176,422.9 176.2,420.1 176.5,421.7 176.7,427.3 176.9,425.9 177.2,429.4 177.4,421.1 177.6,423.9 177.9,420.3 178.1,425.3 178.3,423.5 178.6,420.6 178.8,422.6 179,421.7 179.3,423.7 179.5,424.1 179.7,426.3 180,424.5 180.2,424.2 180.4,423.2 180.7,426.2 180.9,424.5 181.1,422.3 181.4,422.9 181.6,424.7 181.8,425.2 182.1,424.1 182.3,425.3 182.5,426.5 182.8,423.9 183,421.3 183.2,428.1 183.5,424.4 183.7,426.1 184,426.1 184.2,420.3 184.4,427.3 184.7,424.1 184.9,424.1 185.1,425.2 185.4,427.9 185.6,419.8 185.8,425.7 186.1,419.5 186.3,423 186.5,422.8 186.8,424.9 187,423 187.2,426.1 187.5,425 187.7,420.1 187.9,422 188.2,426.1 188.4,419 188.6,419.8 188.9,426.4 189.1,422.6 189.3,424.6 189.6,424.6 189.8,424.4 190,423.8 190.3,421.1 190.5,425.5 190.7,426.6 191,422.6 191.2,420.6 191.5,421.7 191.7,421.1 191.9,423.8 192.2,422.5 192.4,424.6 192.6,425 192.9,422.9 193.1,425.2 193.3,424.3 193.6,430.1 193.8,422.7 194,422 194.3,421.7 194.5,424.5 194.7,420.1 195,418.4 195.2,418.6 195.4,421.4 195.7,417.5 195.9,421.6 196.1,416.5 196.4,413.1 196.6,416.5 196.8,421.8 197.1,422.6 197.3,421.8 197.5,418 197.8,419.8 198,419.1 198.2,415.3 198.5,425 198.7,415.8 199,417.6 199.2,421.4 199.4,417.2 199.7,416.1 199.9,421.2 200.1,420.5 200.4,418.2 200.6,421.2 200.8,416.2 201.1,420.5 201.3,416.2 201.5,414.9 201.8,416.1 202,414.1 202.2,417.2 202.5,419.2 202.7,417.5 202.9,415.2 203.2,420.8 203.4,418.1 203.6,418.7 203.9,420.9 204.1,416.8 204.3,416.8 204.6,419.4 204.8,427.7 205,420.7 205.3,421.4 205.5,426.5 205.7,418.4 206,424.7 206.2,423.3 206.5,425.3 206.7,421.6 206.9,422.3 207.2,420.6 207.4,425.9 207.6,420.8 207.9,423.8 208.1,421.5 208.3,425 208.6,425.4 208.8,425.2 209,419.8 209.3,425.7 209.5,422.7 209.7,426.6 210,426.4 210.2,422 210.4,426.2 210.7,420.9 210.9,427.7 211.1,419.2 211.4,426.1 211.6,425 211.8,427.1 212.1,424.6 212.3,423 212.5,421.6 212.8,424.8 213,425.3 213.2,421.3 213.5,423.6 213.7,428.1 214,420.7 214.2,421.1 214.4,417.9 214.7,426.1 214.9,421.1 215.1,424.9 215.4,421.5 215.6,425.9 215.8,419.9 216.1,429.7 216.3,424.9 216.5,423.2 216.8,424.1 217,429.5 217.2,422 217.5,425.6 217.7,425.3 217.9,423.8 218.2,423 218.4,425.6 218.6,423.4 218.9,423.4 219.1,421.9 219.3,425.1 219.6,423.8 219.8,424.9 220,427.8 220.3,423.5 220.5,423.7 220.7,425.3 221,428 221.2,423.3 221.5,422.8 221.7,424.2 221.9,427.7 222.2,426.1 222.4,426.5 222.6,426.2 222.9,424.2 223.1,420.8 223.3,419.3 223.6,423 223.8,424.6 224,423.8 224.3,421.8 224.5,423.8 224.7,419.6 225,422.4 225.2,420.2 225.4,421.6 225.7,422.9 225.9,422.8 226.1,423.4 226.4,426.3 226.6,425.1 226.8,426.2 227.1,423.5 227.3,424.6 227.5,426 227.8,421.8 228,421 228.2,425.7 228.5,427.5 228.7,423 228.9,422.3 229.2,424.8 229.4,423.2 229.7,423.1 229.9,422.2 230.1,424.5 230.4,425.8 230.6,424.7 230.8,426.3 231.1,427.9 231.3,424.1 231.5,424.6 231.8,424.7 232,422.8 232.2,426.2 232.5,420.9 232.7,425.3 232.9,426.1 233.2,418.2 233.4,429.6 233.6,423.5 233.9,419.9 234.1,423.9 234.3,424 234.6,421.3 234.8,423.7 235,424.4 235.3,425.1 235.5,424.7 235.7,423.2 236,423.1 236.2,423.9 236.4,420.5 236.7,422.2 236.9,425.7 237.2,424.8 237.4,420.6 237.6,425.2 237.9,427.4 238.1,422.8 238.3,419.6 238.6,425.7 238.8,426.5 239,420.9 239.3,423.4 239.5,421.6 239.7,420 240,423.9 240.2,426 240.4,422 240.7,426.9 240.9,422.1 241.1,426 241.4,423.7 241.6,427.5 241.8,421 242.1,422.6 242.3,424.7 242.5,427 242.8,420 243,423.3 243.2,426 243.5,423.9 243.7,423.9 243.9,426.3 244.2,424.4 244.4,425 244.7,421.9 244.9,425.6 245.1,421.5 245.4,422 245.6,418.7 245.8,419.3 246.1,421.5 246.3,424.8 246.5,423.5 246.8,423.3 247,421.6 247.2,419.7 247.5,417.5 247.7,423.9 247.9,422.9 248.2,427.4 248.4,429.4 248.6,424.7 248.9,422.8 249.1,426.3 249.3,425.7 249.6,427.7 249.8,424.1 250,422.7 250.3,425.1 250.5,427.4 250.7,422.4 251,429.4 251.2,427.2 251.4,428.2 251.7,423.9 251.9,428.3 252.2,425.4 252.4,426.5 252.6,425 252.9,423.4 253.1,430.4 253.3,429.2 253.6,431.8 253.8,434.2 254,431.6 254.3,431.1 254.5,433.4 254.7,432.8 255,429.7 255.2,433.2 255.4,431.9 255.7,434.9 255.9,433.7 256.1,432.1 256.4,427.5 256.6,426.3 256.8,430.2 257.1,427.6 257.3,433.3 257.5,428.7 257.8,426.6 258,430.9 258.2,427.8 258.5,426.8 258.7,426.7 258.9,425.6 259.2,431.8 259.4,434.4 259.7,427.7 259.9,428.8 260.1,432.9 260.4,428.7 260.6,433.9 260.8,427 261.1,430.1 261.3,431.7 261.5,432.3 261.8,429.3 262,434.3 262.2,429 262.5,429.8 262.7,428.9 262.9,431.1 263.2,431.2 263.4,431.3 263.6,432.5 263.9,428 264.1,428.8 264.3,426.2 264.6,430 264.8,427.7 265,432.3 265.3,427 265.5,436.1 265.7,431.8 266,433.3 266.2,430.9 266.4,431.1 266.7,431.7 266.9,430.5 267.2,430.4 267.4,434.8 267.6,432.5 267.9,430.9 268.1,427.9 268.3,430.7 268.6,430.9 268.8,430.6 269,431.8 269.3,427.9 269.5,430 269.7,432.1 270,428.8 270.2,430.5 270.4,430.5 270.7,431.1 270.9,430.9 271.1,427.6 271.4,430.9 271.6,429.4 271.8,427.2 272.1,430.7 272.3,429.5 272.5,429.8 272.8,432.4 273,427.9 273.2,433.2 273.5,427.4 273.7,435.1 273.9,430.9 274.2,427.3 274.4,433 274.6,431.5 274.9,430.3 275.1,434.1 275.4,432.1 275.6,432.8 275.8,431.5 276.1,430.7 276.3,430.5 276.5,429.2 276.8,433 277,432.2 277.2,430.1 277.5,428.3 277.7,429.6 277.9,431.5 278.2,433.2 278.4,431.2 278.6,432.4 278.9,430.2 279.1,427.8 279.3,431.5 279.6,431.5 279.8,430.6 280,428.1 280.3,430.1 280.5,431 280.7,427.3 281,431 281.2,431.6 281.4,432.3 281.7,429.5 281.9,432.7 282.1,433.3 282.4,430.6" fill="none" stroke="#14f014" stroke-width="1.2"/>
<polyline points="126.3,419.1 126.5,421.8 126.8,418.7 127,418.6 127.2,421.1 127.5,423.7 127.7,418.6 127.9,419.8 128.2,420.2 128.4,417.6 128.6,418.9 128.9,421.3 129.1,415.4 129.3,418.5 129.6,417.2 129.8,422.5 130,418 130.3,419.2 130.5,417.4 130.8,415.1 131,418.6 131.2,423.6 131.5,424.2 131.7,421 131.9,422.8 132.2,418.8 132.4,425.9 132.6,421.7 132.9,424 133.1,422.5 133.3,414.1 133.6,424.9 133.8,419.1 134,417.2 134.3,417.9 134.5,418.7 134.7,421.3 135,417.5 135.2,421.2 135.4,420.3 135.7,417.9 135.9,417.2 136.1,420.8 136.4,418 136.6,416.8 136.8,420.2 137.1,414.3 137.3,419.3 137.5,417.7 137.8,420.3 138,418.9 138.3,420.1 138.5,418.9 138.7,420.7 139,417.9 139.2,422.6 139.4,418.3 139.7,420.6 139.9,423 140.1,424.4 140.4,419 140.6,418.9 140.8,421 141.1,425.5 141.3,425 141.5,425.1 141.8,427 142,422.5 142.2,428 142.5,424.3 142.7,423.9 142.9,424.5 143.2,420.3 143.4,419.6 143.6,418.2 143.9,418.8 144.1,422 144.3,423.3 144.6,418.9 144.8,418.5 145,417.3 145.3,415.3 145.5,418 145.8,419.7 146,418.9 146.2,418.1 146.5,421.8 146.7,419.1 146.9,422.1 147.2,418.2 147.4,417.9 147.6,415 147.9,421.2 148.1,417.8 148.3,416.2 148.6,417.4 148.8,419.7 149,419.7 149.3,419.1 149.5,418.9 149.7,423.4 150,416.3 150.2,420.6 150.4,421.2 150.7,416.9 150.9,421.8 151.1,421.6 151.4,419.6 151.6,417.6 151.8,421.7 152.1,421.9 152.3,419.7 152.5,419.1 152.8,418.8 153,422.3 153.3,421.8 153.5,419.8 153.7,422.6 154,422.3 154.2,418.4 154.4,420.3 154.7,414.6 154.9,421.5 155.1,421.6 155.4,424.5 155.6,420 155.8,416.9 156.1,421.2 156.3,417.2 156.5,422.8 156.8,421.5 157,418.2 157.2,420.5 157.5,419.6 157.7,422.1 157.9,421.2 158.2,419.1 158.4,421.5 158.6,415.9 158.9,419.9 159.1,420.8 159.3,420.1 159.6,416.2 159.8,420.6 160,420.2 160.3,420.3 160.5,418.7 160.8,417.8 161,417.1 161.2,420.4 161.5,420.2 161.7,422.4 161.9,418.6 162.2,421 162.4,417.6 162.6,414 162.9,413.6 163.1,412.4 163.3,419.9 163.6,419.3 163.8,420.9 164,416.2 164.3,420.8 164.5,419.2 164.7,419.3 165,419.7 165.2,422 165.4,421.1 165.7,420.7 165.9,421.3 166.1,420.9 166.4,417.6 166.6,422 166.8,417.4 167.1,420.7 167.3,416.9 167.5,421.7 167.8,422.5 168,421.1 168.3,422.5 168.5,417.4 168.7,422.3 169,421.5 169.2,416.3 169.4,423.5 169.7,423.6 169.9,421.6 170.1,425 170.4,422.2 170.6,420.7 170.8,420.6 171.1,425.1 171.3,423.4 171.5,420.4 171.8,421.4 172,420.9 172.2,418.7 172.5,416.6 172.7,418.3 172.9,417.3 173.2,419 173.4,421.4 173.6,424.4 173.9,416.8 174.1,421.4 174.3,420.5 174.6,417.6 174.8,415.4 175,421.2 175.3,416.2 175.5,414.7 175.7,419.8 176,417.7 176.2,413.6 176.5,419.2 176.7,419.7 176.9,416.9 177.2,418 177.4,420.7 177.6,419.7 177.9,413.1 178.1,418.3 178.3,414.6 178.6,416.7 178.8,422.4 179,418.4 179.3,417.2 179.5,421.7 179.7,420.4 180,416.7 180.2,418.1 180.4,416.9 180.7,416.5 180.9,418.3 181.1,415.8 181.4,420.8 181.6,416.9 181.8,418 182.1,421.3 182.3,417.8 182.5,423.1 182.8,419.3 183,418 183.2,416.1 183.5,419.4 183.7,419.5 184,418.6 184.2,418.4 184.4,422.6 184.7,422.4 184.9,416.4 185.1,422.4 185.4,422.5 185.6,420.6 185.8,420.7 186.1,421.4 186.3,421 186.5,419.8 186.8,421 187,418.2 187.2,418.6 187.5,420.5 187.7,420.9 187.9,420.1 188.2,417.7 188.4,419.2 188.6,422.5 188.9,421.7 189.1,417.8 189.3,420.5 189.6,423.4 189.8,423.5 190,417.6 190.3,417.5 190.5,417.1 190.7,416.8 191,419.9 191.2,423.9 191.5,419.6 191.7,420.5 191.9,417.9 192.2,418.7 192.4,415.4 192.6,417.8 192.9,419 193.1,418.2 193.3,419.7 193.6,420.5 193.8,418.1 194,420.9 194.3,423.4 194.5,420.2 194.7,425.9 195,426.7 195.2,429.9 195.4,425 195.7,427.9 195.9,425 196.1,426.5 196.4,424.4 196.6,430 196.8,425.7 197.1,424.4 197.3,427.2 197.5,425.8 197.8,427.9 198,427.1 198.2,423.6 198.5,425.9 198.7,425.4 199,428.8 199.2,427 199.4,429.7 199.7,424.4 199.9,429.1 200.1,429.3 200.4,434.2 200.6,432.1 200.8,426.4 201.1,425.4 201.3,427.4 201.5,427.3 201.8,426.6 202,426.7 202.2,430.8 202.5,431.8 202.7,431.4 202.9,430.6 203.2,428.4 203.4,427.4 203.6,424.9 203.9,424.4 204.1,425.5 204.3,426.7 204.6,424 204.8,417.8 205,425.6 205.3,418.7 205.5,420.9 205.7,424.3 206,417.3 206.2,419.4 206.5,417.3 206.7,419.6 206.9,421 207.2,419.1 207.4,421.7 207.6,419.4 207.9,422.6 208.1,418.9 208.3,417.5 208.6,417.6 208.8,423.4 209,416.7 209.3,417.2 209.5,419.4 209.7,420.3 210,416.7 210.2,420.7 210.4,413.6 210.7,417.4 210.9,419.3 211.1,416.2 211.4,421.9 211.6,416.6 211.8,419.8 212.1,414.7 212.3,417.8 212.5,416.7 212.8,414.9 213,416 213.2,416.3 213.5,415.8 213.7,416.6 214,418.2 214.2,417.6 214.4,416.3 214.7,421.5 214.9,419.8 215.1,420.3 215.4,421.1 215.6,417.2 215.8,418.4 216.1,415.7 216.3,418 216.5,418.3 216.8,420.1 217,416.8 217.2,422.2 217.5,421.4 217.7,421.5 217.9,420.6 218.2,417.7 218.4,421.6 218.6,421.2 218.9,419.5 219.1,419.7 219.3,420.4 219.6,418.6 219.8,422.8 220,415.4 220.3,419.7 220.5,423 220.7,419.9 221,421.1 221.2,418.4 221.5,417.6 221.7,420.5 221.9,419.6 222.2,419.8 222.4,416 222.6,417.1 222.9,421.8 223.1,422.3 223.3,420.5 223.6,420.3 223.8,422.1 224,419.3 224.3,425.2 224.5,422.2 224.7,422.7 225,418.3 225.2,420 225.4,420.3 225.7,417.3 225.9,420 226.1,415.2 226.4,420.7 226.6,420.6 226.8,416.9 227.1,421.7 227.3,422.7 227.5,420 227.8,418.5 228,419.3 228.2,418 228.5,417.8 228.7,420.7 228.9,424.2 229.2,426 229.4,419 229.7,418.4 229.9,418.3 230.1,421 230.4,419.8 230.6,424.1 230.8,419.3 231.1,420.5 231.3,423.2 231.5,416.8 231.8,421 232,419 232.2,420 232.5,421.7 232.7,422.2 232.9,423.6 233.2,419.6 233.4,423.5 233.6,420.7 233.9,417.2 234.1,421.4 234.3,420.9 234.6,419.1 234.8,424.4 235,417.3 235.3,420.8 235.5,421.2 235.7,425 236,421.7 236.2,420.2 236.4,419.7 236.7,418.6 236.9,414.5 237.2,425.1 237.4,423.1 237.6,420.4 237.9,418.7 238.1,419.7 238.3,421.2 238.6,417.3 238.8,420.2 239,420.1 239.3,421.2 239.5,418.7 239.7,415.9 240,418.1 240.2,418.7 240.4,424.8 240.7,421.3 240.9,422.9 241.1,420.3 241.4,420.8 241.6,420.1 241.8,418.2 242.1,423.5 242.3,419.9 242.5,420.1 242.8,419.8 243,416.7 243.2,418.1 243.5,421.9 243.7,421.6 243.9,419.8 244.2,418.2 244.4,420.1 244.7,421.2 244.9,422.9 245.1,418.1 245.4,416.4 245.6,417.3 245.8,418.9 246.1,415.1 246.3,418.6 246.5,422.8 246.8,414.6 247,421.9 247.2,418.6 247.5,420.5 247.7,418.7 247.9,420.1 248.2,417.5 248.4,415 248.6,421.7 248.9,416.3 249.1,418.7 249.3,417.7 249.6,414.4 249.8,417.4 250,415.1 250.3,422.9 250.5,422.5 250.7,418.8 251,419.6 251.2,417.9 251.4,418.7 251.7,415.9 251.9,419.5 252.2,418.9 252.4,420.9 252.6,418.8 252.9,418.1 253.1,429.7 253.3,434.1 253.6,424.8 253.8,430 254,431.9 254.3,434.5 254.5,433.5 254.7,430.9 255,430.1 255.2,428.8 255.4,433.3 255.7,428.4 255.9,433.9 256.1,426.7 256.4,431.2 256.6,430.4 256.8,429.9 257.1,430.3 257.3,428.2 257.5,431.1 257.8,428.2 258,431 258.2,427.4 258.5,430.7 258.7,428.2 258.9,428.3 259.2,429 259.4,426.9 259.7,432 259.9,433.2 260.1,427.1 260.4,429.6 260.6,432.8 260.8,429.9 261.1,431.5 261.3,427.7 261.5,427.7 261.8,431.4 262,429.5 262.2,431 262.5,432.7 262.7,429.3 262.9,429.5 263.2,432.3 263.4,428.2 263.6,427.7 263.9,426.6 264.1,432.5 264.3,431.7 264.6,435.5 264.8,429.4 265,429.2 265.3,430.6 265.5,430.4 265.7,428.2 266,428.4 266.2,431.6 266.4,431.8 266.7,431.3 266.9,431.5 267.2,432.1 267.4,430.1 267.6,428.2 267.9,432.2 268.1,431.5 268.3,431 268.6,430.2 268.8,425.7 269,433.8 269.3,434.4 269.5,429.7 269.7,426.3 270,433.3 270.2,429.5 270.4,430.7 270.7,430.3 270.9,435 271.1,431 271.4,430 271.6,432 271.8,428.2 272.1,430 272.3,430.9 272.5,431.1 272.8,429.2 273,429.2 273.2,428.8 273.5,430 273.7,432.3 273.9,426.2 274.2,426.8 274.4,428.5 274.6,430 274.9,427.9 275.1,430.7 275.4,429.8 275.6,426.8 275.8,431.9 276.1,427.7 276.3,430.6 276.5,428.1 276.8,430.4 277,433.7 277.2,432.5 277.5,432.8 277.7,430.7 277.9,428.7 278.2,428.8 278.4,429 278.6,431.3 278.9,430.7 279.1,428.2 279.3,429.7 279.6,432 279.8,428.8 280,430.1 280.3,431.7 280.5,430.9 280.7,432.6 281,431.2 281.2,424.4 281.4,432.4 281.7,428.7 281.9,430.4 282.1,431.3 282.4,430.4" fill="none" stroke="#0808f0" stroke-width="1.2"/>
</g><g clip-path="url(#cl2)">
<polyline points="126.3,440.7 126.5,440.6 126.8,446.4 127,447.8 127.2,441.7 127.5,449.6 127.7,448.6 127.9,442.3 128.2,446.3 128.4,442.1 128.6,444.5 128.9,447.4 129.1,447.5 129.3,448.5 129.6,442.2 129.8,443.4 130,444.7 130.3,443.6 130.5,445.2 130.8,443.4 131,442.9 131.2,458.2 131.5,457.7 131.7,459.4 131.9,458.4 132.2,458 132.4,463.8 132.6,457.4 132.9,461.9 133.1,457.7 133.3,444.6 133.6,444.4 133.8,444.2 134,439.7 134.3,446.9 134.5,450.2 134.7,445.2 135,447.3 135.2,444.6 135.4,442.9 135.7,444.3 135.9,444 136.1,447.8 136.4,446.7 136.6,445.6 136.8,446.6 137.1,445.9 137.3,446.9 137.5,444.3 137.8,447.1 138,444.8 138.3,444.1 138.5,447.2 138.7,448.7 139,449.7 139.2,445.8 139.4,446.5 139.7,444.1 139.9,446.7 140.1,448 140.4,444.3 140.6,447.4 140.8,445.5 141.1,460.8 141.3,458.4 141.5,456.2 141.8,460.5 142,458.8 142.2,458.7 142.5,460.7 142.7,457.9 142.9,458.5 143.2,439.9 143.4,446.8 143.6,446.1 143.9,439.2 144.1,444.7 144.3,442.7 144.6,439.9 144.8,441.8 145,444.4 145.3,446.3 145.5,444.3 145.8,443.2 146,440.7 146.2,444 146.5,447.4 146.7,449 146.9,443.8 147.2,447.6 147.4,444.9 147.6,445.5 147.9,443.3 148.1,447 148.3,449.2 148.6,445.8 148.8,448.2 149,444.7 149.3,444.4 149.5,449.4 149.7,445 150,448.7 150.2,446.3 150.4,445 150.7,447.4 150.9,449.4 151.1,449.8 151.4,449.7 151.6,447.3 151.8,447.1 152.1,447.5 152.3,448.8 152.5,446.5 152.8,446.7 153,447.4 153.3,449.2 153.5,443 153.7,448.9 154,443.4 154.2,448.3 154.4,447.6 154.7,448.6 154.9,445.7 155.1,447.9 155.4,446.2 155.6,444.2 155.8,447.2 156.1,443.3 156.3,443.6 156.5,445.9 156.8,441.9 157,447.4 157.2,446.9 157.5,442.2 157.7,440.3 157.9,445.5 158.2,444.8 158.4,447 158.6,446.6 158.9,443.4 159.1,445.4 159.3,442.5 159.6,443.1 159.8,448 160,445.5 160.3,441.6 160.5,445.6 160.8,445.2 161,444.4 161.2,442.8 161.5,441.5 161.7,442.7 161.9,445.7 162.2,445.8 162.4,442 162.6,444.9 162.9,443.1 163.1,441.7 163.3,445 163.6,443 163.8,445.8 164,440.9 164.3,444.3 164.5,444.4 164.7,445.2 165,446.3 165.2,442.2 165.4,442.8 165.7,444.8 165.9,447.9 166.1,443.7 166.4,446.2 166.6,442.4 166.8,446.4 167.1,445.8 167.3,446.5 167.5,445.6 167.8,444.2 168,443.1 168.3,443.1 168.5,443.1 168.7,444.3 169,447.9 169.2,445.4 169.4,450.7 169.7,445.3 169.9,448.6 170.1,448.3 170.4,449.4 170.6,448.4 170.8,445.4 171.1,446.7 171.3,443.9 171.5,449.7 171.8,449 172,452.2 172.2,448 172.5,449.7 172.7,445.7 172.9,447.5 173.2,450 173.4,445 173.6,444.7 173.9,443.2 174.1,445.3 174.3,445.5 174.6,447.8 174.8,442.8 175,445.1 175.3,448 175.5,446.6 175.7,447.5 176,446.2 176.2,444.3 176.5,449.8 176.7,442.3 176.9,447.3 177.2,447.3 177.4,448.4 177.6,446.9 177.9,445.9 178.1,448.5 178.3,447.7 178.6,446.4 178.8,446 179,451 179.3,446.9 179.5,446.6 179.7,448.3 180,443.6 180.2,444.1 180.4,441.8 180.7,442.5 180.9,442.2 181.1,445.8 181.4,448.5 181.6,449.8 181.8,447.2 182.1,450 182.3,444.6 182.5,443.6 182.8,444.6 183,441.9 183.2,445.4 183.5,443.1 183.7,444.7 184,442.3 184.2,445.5 184.4,443.7 184.7,444.9 184.9,440.3 185.1,440.8 185.4,440.5 185.6,443.4 185.8,444 186.1,439.2 186.3,442.6 186.5,442.1 186.8,443.5 187,441.5 187.2,440.4 187.5,445.4 187.7,444.6 187.9,444.8 188.2,443.7 188.4,441.2 188.6,443.5 188.9,446.1 189.1,445 189.3,446.1 189.6,447.3 189.8,439.3 190,445.9 190.3,444 190.5,450.1 190.7,446.6 191,445 191.2,447.6 191.5,444.5 191.7,447.7 191.9,447.3 192.2,447 192.4,446.6 192.6,446.2 192.9,450.3 193.1,445.9 193.3,444.9 193.6,453.2 193.8,444.5 194,448.4 194.3,450.5 194.5,451 194.7,459.5 195,462 195.2,461.9 195.4,461.1 195.7,461.9 195.9,466.4 196.1,457.8 196.4,461.1 196.6,463.6 196.8,462.2 197.1,460.2 197.3,455.2 197.5,462 197.8,456.1 198,462.2 198.2,458 198.5,458.5 198.7,459.7 199,459 199.2,460.7 199.4,460.5 199.7,460.2 199.9,460 200.1,458.8 200.4,460 200.6,462.4 200.8,458 201.1,455.4 201.3,456.2 201.5,459.2 201.8,458.3 202,457.1 202.2,462.6 202.5,456.6 202.7,455.5 202.9,458.3 203.2,457.7 203.4,457.9 203.6,458.7 203.9,453.1 204.1,454.5 204.3,458.9 204.6,443.5 204.8,440.7 205,442.9 205.3,442.3 205.5,446.2 205.7,444 206,443.8 206.2,442.3 206.5,440.2 206.7,446.4 206.9,443.5 207.2,442.6 207.4,444.2 207.6,440.8 207.9,439.9 208.1,441.1 208.3,438 208.6,443.7 208.8,444.3 209,445.1 209.3,442.6 209.5,445.7 209.7,444.4 210,439.5 210.2,442.9 210.4,444.1 210.7,447.8 210.9,444.6 211.1,448.2 211.4,446.6 211.6,448.9 211.8,443.5 212.1,445.2 212.3,443.3 212.5,451.1 212.8,444.9 213,446.4 213.2,448.2 213.5,447.4 213.7,448.3 214,447.6 214.2,450.1 214.4,446.9 214.7,447.2 214.9,444.3 215.1,443.2 215.4,444.4 215.6,444.5 215.8,445.2 216.1,445.3 216.3,443 216.5,446.3 216.8,449.5 217,445.7 217.2,444.5 217.5,444.2 217.7,449.4 217.9,448.2 218.2,451.1 218.4,446.4 218.6,443 218.9,443.2 219.1,447.8 219.3,446.6 219.6,444.6 219.8,448 220,444.6 220.3,445.8 220.5,444.6 220.7,445.9 221,449 221.2,445.6 221.5,444.3 221.7,443.9 221.9,446.4 222.2,445.2 222.4,449 222.6,448.2 222.9,448 223.1,446.5 223.3,444.8 223.6,443.1 223.8,444.4 224,448.7 224.3,444.9 224.5,446.2 224.7,447.2 225,449.7 225.2,445.6 225.4,444.7 225.7,444.2 225.9,442.2 226.1,438.4 226.4,443.8 226.6,442.9 226.8,445.3 227.1,442.5 227.3,445.9 227.5,444.5 227.8,441.1 228,444.2 228.2,440.8 228.5,445 228.7,444.4 228.9,441.5 229.2,442.6 229.4,440.1 229.7,443.2 229.9,444.3 230.1,442.7 230.4,440.9 230.6,438.9 230.8,445.3 231.1,445.6 231.3,441.5 231.5,442.7 231.8,445.2 232,442.5 232.2,441.7 232.5,444.4 232.7,442.9 232.9,444 233.2,447.4 233.4,446.8 233.6,446.4 233.9,445.5 234.1,446.1 234.3,446.6 234.6,446.9 234.8,444.8 235,445.4 235.3,446 235.5,447.8 235.7,446.5 236,449.2 236.2,445.7 236.4,447.2 236.7,447.9 236.9,445.3 237.2,445.4 237.4,447.4 237.6,445 237.9,446.9 238.1,446.7 238.3,445 238.6,447.1 238.8,438.2 239,437.6 239.3,438 239.5,438.8 239.7,447.5 240,445.8 240.2,449.6 240.4,445.7 240.7,446.1 240.9,448.3 241.1,447.3 241.4,446.6 241.6,445.4 241.8,448.3 242.1,447.2 242.3,447.1 242.5,444.4 242.8,452.3 243,444.9 243.2,446.7 243.5,444 243.7,445 243.9,446.2 244.2,445.4 244.4,442.5 244.7,443.9 244.9,441.3 245.1,445.9 245.4,442.3 245.6,445.2 245.8,446.5 246.1,445.1 246.3,443.8 246.5,443 246.8,449.6 247,445.5 247.2,445.2 247.5,444.1 247.7,445.4 247.9,443.1 248.2,438.8 248.4,455.9 248.6,456.5 248.9,455.7 249.1,460.5 249.3,455.7 249.6,460 249.8,452.6 250,456.6 250.3,457.4 250.5,446.8 250.7,443.9 251,441.8 251.2,441.2 251.4,444.8 251.7,449.4 251.9,445.5 252.2,443.2 252.4,443.7 252.6,446 252.9,447.2" fill="none" stroke="#000" stroke-width="1.35"/>
</g>
<rect x="126.2" y="398.6" width="156.1" height="67" fill="none" stroke="#111" stroke-width="1.3"/>
<path d="M126.2,432.4 H282.3" stroke="#111" stroke-width="1.3"/>
<path d="M124.8,401.9 H126.2 M124,411.5 H126.2 M124.8,420.2 H126.2 M124,429.8 H126.2 M124.8,437 H126.2 M124.8,441 H126.2 M124,445.6 H126.2 M124.8,450.5 H126.2 M124.8,455.4 H126.2 M124.8,460.2 H126.2 M124,465 H126.2 M126.3,465.6 V467.6 M165.4,465.6 V467.6 M204.4,465.6 V467.6 M243.5,465.6 V467.6 M282.5,465.6 V467.6 M145.8,465.6 V466.9 M184.9,465.6 V466.9 M223.9,465.6 V466.9 M263,465.6 V466.9" stroke="#111" stroke-width="1"/>
<text x="121.5" y="410" font-size="11" text-anchor="end" font-weight="normal" font-style="normal" fill="#000" >4</text>
<text x="121.5" y="433.4" font-size="11" text-anchor="end" font-weight="normal" font-style="normal" fill="#000" >0</text>
<text x="121.5" y="444.1" font-size="11" text-anchor="end" font-weight="normal" font-style="normal" fill="#000" >0.8</text>
<text x="121.5" y="462" font-size="11" text-anchor="end" font-weight="normal" font-style="normal" fill="#000" >0.0</text>
<text x="126.3" y="477.6" font-size="11.5" text-anchor="middle" font-weight="normal" font-style="normal" fill="#000" >0</text>
<text x="165.4" y="477.6" font-size="11.5" text-anchor="middle" font-weight="normal" font-style="normal" fill="#000" >20</text>
<text x="204.4" y="477.6" font-size="11.5" text-anchor="middle" font-weight="normal" font-style="normal" fill="#000" >40</text>
<text x="243.5" y="477.6" font-size="11.5" text-anchor="middle" font-weight="normal" font-style="normal" fill="#000" >60</text>
<text x="282.5" y="477.6" font-size="11.5" text-anchor="middle" font-weight="normal" font-style="normal" fill="#000" >80</text>
<text x="197.1" y="488.1" font-size="13" text-anchor="middle" font-weight="normal" font-style="normal" fill="#000" >Time (s)</text>
<g transform="translate(101.3,416.4) rotate(-90)"><text x="0" y="0" font-size="12.6">FRET, <tspan fill="#14f014" font-style="italic">I</tspan><tspan fill="#14f014" font-style="italic" font-size="9" dy="3">D</tspan><tspan fill="#0808f0" font-style="italic" dy="-3">/I</tspan><tspan fill="#0808f0" font-style="italic" font-size="9" dy="3">A</tspan><tspan font-style="italic" dy="-3"> (arb. units)</tspan></text></g>
<path d="M340.5,318.1 V318.1 H341.6 V318.1 H342.6 V318.1 H343.7 V318.1 H344.8 V318.1 H345.9 V318.1 H347 V318.1 H348.1 V318.1 H349.1 V318.1 H350.2 V318.1 H351.3 V318.1 H352.4 V318.1 H353.5 V318.1 H354.5 V318.1 H355.6 V317.8 H356.7 V317.1 H357.8 V317.1 H358.9 V315.8 H360 V314.8 H361 V312.9 H362.1 V312.4 H363.2 V308 H364.3 V305.7 H365.4 V303.9 H366.5 V302.4 H367.5 V299.9 H368.6 V295.7 H369.7 V292.3 H370.8 V289.6 H371.9 V287.3 H373 V283.3 H374 V279.2 H375.1 V278.5 H376.2 V274.1 H377.3 V272.8 H378.4 V270.6 H379.5 V267.1 H380.5 V268.6 H381.6 V267.7 H382.7 V269 H383.8 V267.8 H384.9 V270.1 H386 V271.1 H387 V271.9 H388.1 V273.8 H389.2 V273.4 H390.3 V276.8 H391.4 V278.3 H392.5 V278.7 H393.5 V280.8 H394.6 V282 H395.7 V283.7 H396.8 V284.3 H397.9 V285 H399 V287.4 H400 V288.1 H401.1 V289.2 H402.2 V289.8 H403.3 V289 H404.4 V291.7 H405.5 V292.4 H406.5 V293.1 H407.6 V293.9 H408.7 V292.9 H409.8 V292.8 H410.9 V294.9 H411.9 V293.3 H413 V293.6 H414.1 V295 H415.2 V295 H416.3 V296.1 H417.4 V295.5 H418.4 V296.7 H419.5 V297.4 H420.6 V298.7 H421.7 V299.1 H422.8 V297.9 H423.9 V300.2 H424.9 V300 H426 V302.5 H427.1 V301.8 H428.2 V301.4 H429.3 V302.9 H430.4 V303.6 H431.4 V304.9 H432.5 V304.7 H433.6 V304.9 H434.7 V306.2 H435.8 V306.7 H436.9 V307.7 H437.9 V308.1 H439 V307.2 H440.1 V310.3 H441.2 V310.1 H442.3 V311.6 H443.4 V310.2 H444.4 V312.1 H445.5 V311.7 H446.6 V313.1 H447.7 V311.8 H448.8 V312.4 H449.9 V313.6 H450.9 V314.2 H452 V314.6 H453.1 V314.9 H454.2 V314.2 H455.3 V315.5 H456.4 V315.9 H457.4 V315.9 H458.5 V315.4 H459.6 V317.2 H460.7 V315 H461.8 V315.7 H462.8 V315.9 H463.9 V316.1 H465 V316.1 H466.1 V316 H467.2 V315.9 H468.3 V316.7 H469.3 V318.1 H470.4 V315.8 H471.5 V316.7 H472.6 V316.8 H473.7 V315.4 H474.8 V317.1 H475.8 V317.2 H476.9 V317.3 H478 V317.4 H479.1 V317.5 H480.2 V317.6 H481.3 V317.7 H482.3 V318.1 Z" fill="#bdbdbd"/>
<polyline points="340.5,318.1 341.6,318.1 342.6,318 343.7,318 344.8,318 345.9,317.9 347,317.8 348.1,317.7 349.1,317.6 350.2,317.4 351.3,317.2 352.4,316.9 353.5,316.5 354.5,316 355.6,315.4 356.7,314.7 357.8,313.8 358.9,312.7 360,311.4 361,309.9 362.1,308.2 363.2,306.3 364.3,304.1 365.4,301.7 366.5,299.1 367.5,296.3 368.6,293.4 369.7,290.3 370.8,287.2 371.9,284.2 373,281.2 374,278.4 375.1,275.8 376.2,273.6 377.3,271.7 378.4,270.2 379.5,269.2 380.5,268.8 381.6,268.8 382.7,269.4 383.8,270.5 384.9,272 386,274 387,276.3 388.1,278.9 389.2,281.8 390.3,284.8 391.4,287.9 392.5,290.9 393.5,294 394.6,296.9 395.7,299.6 396.8,302.2 397.9,304.6 399,306.7 400,308.6 401.1,310.2 402.2,311.7 403.3,312.9 404.4,314 405.5,314.8 406.5,315.5 407.6,316.1 408.7,316.6 409.8,317 410.9,317.2 411.9,317.5 413,317.6 414.1,317.8 415.2,317.9 416.3,317.9 417.4,318 418.4,318 419.5,318 420.6,318.1 421.7,318.1 422.8,318.1 423.9,318.1 424.9,318.1 426,318.1 427.1,318.1 428.2,318.1 429.3,318.1 430.4,318.1 431.4,318.1 432.5,318.1 433.6,318.1 434.7,318.1 435.8,318.1 436.9,318.1 437.9,318.1 439,318.1 440.1,318.1 441.2,318.1 442.3,318.1 443.4,318.1 444.4,318.1 445.5,318.1 446.6,318.1 447.7,318.1 448.8,318.1 449.9,318.1 450.9,318.1 452,318.1 453.1,318.1 454.2,318.1 455.3,318.1 456.4,318.1 457.4,318.1 458.5,318.1 459.6,318.1 460.7,318.1 461.8,318.1 462.8,318.1 463.9,318.1 465,318.1 466.1,318.1 467.2,318.1 468.3,318.1 469.3,318.1 470.4,318.1 471.5,318.1 472.6,318.1 473.7,318.1 474.8,318.1 475.8,318.1 476.9,318.1 478,318.1 479.1,318.1 480.2,318.1 481.3,318.1 482.3,318.1" fill="none" stroke="#f01010" stroke-width="1.5"/>
<polyline points="340.5,318.1 341.6,318.1 342.6,318.1 343.7,318.1 344.8,318.1 345.9,318.1 347,318.1 348.1,318.1 349.1,318.1 350.2,318.1 351.3,318.1 352.4,318.1 353.5,318.1 354.5,318 355.6,318 356.7,318 357.8,318 358.9,318 360,317.9 361,317.9 362.1,317.9 363.2,317.8 364.3,317.8 365.4,317.7 366.5,317.6 367.5,317.5 368.6,317.4 369.7,317.3 370.8,317.2 371.9,317 373,316.9 374,316.7 375.1,316.4 376.2,316.2 377.3,315.9 378.4,315.6 379.5,315.3 380.5,314.9 381.6,314.5 382.7,314 383.8,313.5 384.9,313 386,312.4 387,311.8 388.1,311.2 389.2,310.5 390.3,309.8 391.4,309.1 392.5,308.3 393.5,307.5 394.6,306.7 395.7,305.8 396.8,305 397.9,304.2 399,303.3 400,302.5 401.1,301.7 402.2,300.9 403.3,300.1 404.4,299.4 405.5,298.7 406.5,298.1 407.6,297.6 408.7,297.1 409.8,296.7 410.9,296.3 411.9,296.1 413,295.9 414.1,295.8 415.2,295.8 416.3,295.9 417.4,296.1 418.4,296.3 419.5,296.7 420.6,297.1 421.7,297.6 422.8,298.1 423.9,298.7 424.9,299.4 426,300.1 427.1,300.9 428.2,301.7 429.3,302.5 430.4,303.3 431.4,304.2 432.5,305 433.6,305.8 434.7,306.7 435.8,307.5 436.9,308.3 437.9,309.1 439,309.8 440.1,310.5 441.2,311.2 442.3,311.8 443.4,312.4 444.4,313 445.5,313.5 446.6,314 447.7,314.5 448.8,314.9 449.9,315.3 450.9,315.6 452,315.9 453.1,316.2 454.2,316.4 455.3,316.7 456.4,316.9 457.4,317 458.5,317.2 459.6,317.3 460.7,317.4 461.8,317.5 462.8,317.6 463.9,317.7 465,317.8 466.1,317.8 467.2,317.9 468.3,317.9 469.3,317.9 470.4,318 471.5,318 472.6,318 473.7,318 474.8,318 475.8,318.1 476.9,318.1 478,318.1 479.1,318.1 480.2,318.1 481.3,318.1 482.3,318.1" fill="none" stroke="#1010f0" stroke-width="1.5"/>
<path d="M339.7,253.9 V318.1 H482.4" fill="none" stroke="#111" stroke-width="1.2"/>
<path d="M337.7,274.8 H339.7 M337.7,318.1 H339.7 M338.5,296.5 H339.7 M338.5,253.2 H339.7 M351.3,318.1 V320.1 M373,318.1 V319.5 M394.6,318.1 V320.1 M416.3,318.1 V319.5 M437.9,318.1 V320.1 M459.6,318.1 V319.5 M481.3,318.1 V320.1" stroke="#111" stroke-width="1"/>
<text x="335.8" y="278.8" font-size="11.5" text-anchor="end" font-weight="normal" font-style="normal" fill="#000" >2</text>
<text x="335.8" y="322.1" font-size="11.5" text-anchor="end" font-weight="normal" font-style="normal" fill="#000" >0</text>
<text x="346.7" y="264.2" font-size="13"><tspan font-style="italic">N</tspan> = 815</text>
<path d="M340.5,388.8 V388.8 H341.6 V388.8 H342.6 V388.8 H343.7 V388.8 H344.8 V388.8 H345.9 V388.8 H347 V388.8 H348.1 V388.8 H349.1 V388.8 H350.2 V388.8 H351.3 V388.8 H352.4 V388.8 H353.5 V388.8 H354.5 V388.8 H355.6 V388.8 H356.7 V388.4 H357.8 V387.5 H358.9 V385.7 H360 V385 H361 V383.7 H362.1 V384 H363.2 V382.6 H364.3 V382.2 H365.4 V382.6 H366.5 V380.5 H367.5 V381.3 H368.6 V381.5 H369.7 V380.5 H370.8 V380.8 H371.9 V380.6 H373 V379.5 H374 V380.3 H375.1 V378.8 H376.2 V380.4 H377.3 V379.7 H378.4 V380.2 H379.5 V381.7 H380.5 V380.2 H381.6 V380 H382.7 V379.5 H383.8 V381.4 H384.9 V379.5 H386 V379.4 H387 V381.1 H388.1 V380.1 H389.2 V379.3 H390.3 V381.7 H391.4 V379.7 H392.5 V381.8 H393.5 V379.7 H394.6 V378.5 H395.7 V379.9 H396.8 V379 H397.9 V380.8 H399 V379.8 H400 V379.6 H401.1 V378.3 H402.2 V379.1 H403.3 V378.1 H404.4 V378.7 H405.5 V379.1 H406.5 V378.3 H407.6 V378.1 H408.7 V378.3 H409.8 V377.1 H410.9 V378 H411.9 V376.8 H413 V376.1 H414.1 V376.8 H415.2 V375.9 H416.3 V375.6 H417.4 V376.4 H418.4 V373.6 H419.5 V374.8 H420.6 V373.7 H421.7 V376.4 H422.8 V372.5 H423.9 V373.5 H424.9 V373.6 H426 V372.5 H427.1 V371.2 H428.2 V373.1 H429.3 V369.5 H430.4 V370 H431.4 V366.5 H432.5 V364.8 H433.6 V361 H434.7 V358.2 H435.8 V356.5 H436.9 V353 H437.9 V349 H439 V347 H440.1 V343.9 H441.2 V342 H442.3 V337.7 H443.4 V333.9 H444.4 V333.4 H445.5 V332.2 H446.6 V331.8 H447.7 V330.7 H448.8 V330.7 H449.9 V333 H450.9 V333.6 H452 V336.5 H453.1 V339.5 H454.2 V341.9 H455.3 V345.3 H456.4 V348.2 H457.4 V349.9 H458.5 V352.8 H459.6 V356.7 H460.7 V356.9 H461.8 V358.6 H462.8 V362.1 H463.9 V365 H465 V367.2 H466.1 V368.6 H467.2 V369.7 H468.3 V370.4 H469.3 V372.8 H470.4 V374.6 H471.5 V377 H472.6 V377.3 H473.7 V379.2 H474.8 V378.1 H475.8 V380.5 H476.9 V382 H478 V381.5 H479.1 V382.6 H480.2 V385.1 H481.3 V387.2 H482.3 V388.8 Z" fill="#bdbdbd"/>
<polyline points="340.5,388.7 341.6,388.7 342.6,388.7 343.7,388.7 344.8,388.7 345.9,388.7 347,388.6 348.1,388.6 349.1,388.6 350.2,388.6 351.3,388.5 352.4,388.5 353.5,388.5 354.5,388.4 355.6,388.4 356.7,388.3 357.8,388.3 358.9,388.2 360,388.2 361,388.1 362.1,388 363.2,388 364.3,387.9 365.4,387.8 366.5,387.7 367.5,387.6 368.6,387.5 369.7,387.4 370.8,387.3 371.9,387.2 373,387 374,386.9 375.1,386.8 376.2,386.6 377.3,386.4 378.4,386.3 379.5,386.1 380.5,385.9 381.6,385.8 382.7,385.6 383.8,385.4 384.9,385.2 386,385 387,384.8 388.1,384.6 389.2,384.4 390.3,384.2 391.4,383.9 392.5,383.7 393.5,383.5 394.6,383.3 395.7,383.1 396.8,382.9 397.9,382.7 399,382.5 400,382.3 401.1,382.1 402.2,382 403.3,381.8 404.4,381.7 405.5,381.5 406.5,381.4 407.6,381.3 408.7,381.2 409.8,381.1 410.9,381 411.9,380.9 413,380.9 414.1,380.8 415.2,380.8 416.3,380.8 417.4,380.8 418.4,380.8 419.5,380.9 420.6,380.9 421.7,381 422.8,381.1 423.9,381.2 424.9,381.3 426,381.4 427.1,381.5 428.2,381.7 429.3,381.8 430.4,382 431.4,382.1 432.5,382.3 433.6,382.5 434.7,382.7 435.8,382.9 436.9,383.1 437.9,383.3 439,383.5 440.1,383.7 441.2,383.9 442.3,384.2 443.4,384.4 444.4,384.6 445.5,384.8 446.6,385 447.7,385.2 448.8,385.4 449.9,385.6 450.9,385.8 452,385.9 453.1,386.1 454.2,386.3 455.3,386.4 456.4,386.6 457.4,386.8 458.5,386.9 459.6,387 460.7,387.2 461.8,387.3 462.8,387.4 463.9,387.5 465,387.6 466.1,387.7 467.2,387.8 468.3,387.9 469.3,388 470.4,388 471.5,388.1 472.6,388.2 473.7,388.2 474.8,388.3 475.8,388.3 476.9,388.4 478,388.4 479.1,388.5 480.2,388.5 481.3,388.5 482.3,388.6" fill="none" stroke="#f01010" stroke-width="1.5"/>
<polyline points="340.5,388.8 341.6,388.8 342.6,388.8 343.7,388.8 344.8,388.8 345.9,388.8 347,388.8 348.1,388.8 349.1,388.8 350.2,388.8 351.3,388.8 352.4,388.8 353.5,388.8 354.5,388.8 355.6,388.8 356.7,388.8 357.8,388.8 358.9,388.8 360,388.8 361,388.8 362.1,388.8 363.2,388.8 364.3,388.8 365.4,388.8 366.5,388.8 367.5,388.8 368.6,388.8 369.7,388.8 370.8,388.8 371.9,388.8 373,388.8 374,388.8 375.1,388.8 376.2,388.8 377.3,388.8 378.4,388.8 379.5,388.8 380.5,388.8 381.6,388.8 382.7,388.8 383.8,388.8 384.9,388.8 386,388.8 387,388.8 388.1,388.8 389.2,388.8 390.3,388.8 391.4,388.8 392.5,388.8 393.5,388.8 394.6,388.8 395.7,388.8 396.8,388.8 397.9,388.8 399,388.8 400,388.8 401.1,388.8 402.2,388.8 403.3,388.8 404.4,388.8 405.5,388.8 406.5,388.8 407.6,388.8 408.7,388.8 409.8,388.8 410.9,388.7 411.9,388.7 413,388.7 414.1,388.6 415.2,388.5 416.3,388.4 417.4,388.3 418.4,388.1 419.5,387.8 420.6,387.5 421.7,387.1 422.8,386.6 423.9,386 424.9,385.2 426,384.3 427.1,383.2 428.2,382 429.3,380.5 430.4,378.8 431.4,376.9 432.5,374.7 433.6,372.4 434.7,369.8 435.8,367.1 436.9,364.3 437.9,361.4 439,358.5 440.1,355.7 441.2,352.9 442.3,350.4 443.4,348 444.4,346 445.5,344.4 446.6,343.2 447.7,342.5 448.8,342.3 449.9,342.5 450.9,343.2 452,344.4 453.1,346 454.2,348 455.3,350.4 456.4,352.9 457.4,355.7 458.5,358.5 459.6,361.4 460.7,364.3 461.8,367.1 462.8,369.8 463.9,372.4 465,374.7 466.1,376.9 467.2,378.8 468.3,380.5 469.3,382 470.4,383.2 471.5,384.3 472.6,385.2 473.7,386 474.8,386.6 475.8,387.1 476.9,387.5 478,387.8 479.1,388.1 480.2,388.3 481.3,388.4 482.3,388.5" fill="none" stroke="#1010f0" stroke-width="1.5"/>
<path d="M339.7,324.5 V388.8 H482.4" fill="none" stroke="#111" stroke-width="1.2"/>
<path d="M337.7,345.5 H339.7 M337.7,388.8 H339.7 M338.5,367.2 H339.7 M338.5,323.9 H339.7 M351.3,388.8 V390.8 M373,388.8 V390.2 M394.6,388.8 V390.8 M416.3,388.8 V390.2 M437.9,388.8 V390.8 M459.6,388.8 V390.2 M481.3,388.8 V390.8" stroke="#111" stroke-width="1"/>
<text x="335.8" y="349.5" font-size="11.5" text-anchor="end" font-weight="normal" font-style="normal" fill="#000" >2</text>
<text x="335.8" y="392.8" font-size="11.5" text-anchor="end" font-weight="normal" font-style="normal" fill="#000" >0</text>
<text x="346.7" y="334.8" font-size="13"><tspan font-style="italic">N</tspan> = 1290</text>
<path d="M340.5,463.6 V463.6 H341.6 V463.6 H342.6 V463.5 H343.7 V463.5 H344.8 V463.5 H345.9 V463.5 H347 V463.5 H348.1 V463.4 H349.1 V463.4 H350.2 V463.4 H351.3 V463.4 H352.4 V463.4 H353.5 V463.3 H354.5 V463.3 H355.6 V463.3 H356.7 V463.3 H357.8 V463.2 H358.9 V463.2 H360 V463.2 H361 V463.2 H362.1 V462.8 H363.2 V461.7 H364.3 V461.3 H365.4 V460.6 H366.5 V460.5 H367.5 V457.6 H368.6 V456.8 H369.7 V454.3 H370.8 V453.1 H371.9 V450.3 H373 V449.6 H374 V447.9 H375.1 V446.3 H376.2 V446.3 H377.3 V446.1 H378.4 V445.7 H379.5 V445.3 H380.5 V444.7 H381.6 V444.7 H382.7 V444.6 H383.8 V443.8 H384.9 V443.9 H386 V444.5 H387 V442.3 H388.1 V444.3 H389.2 V441.2 H390.3 V443.4 H391.4 V443 H392.5 V442.2 H393.5 V440.6 H394.6 V441.6 H395.7 V440 H396.8 V439.6 H397.9 V440.6 H399 V440 H400 V439.3 H401.1 V439.2 H402.2 V439.7 H403.3 V440.3 H404.4 V439.3 H405.5 V439.3 H406.5 V438.3 H407.6 V438.1 H408.7 V438.5 H409.8 V438.5 H410.9 V437.9 H411.9 V436.8 H413 V436.2 H414.1 V435.8 H415.2 V435 H416.3 V434 H417.4 V433.8 H418.4 V431.2 H419.5 V431.6 H420.6 V428.9 H421.7 V428 H422.8 V427.9 H423.9 V424.3 H424.9 V422.8 H426 V422.4 H427.1 V423.3 H428.2 V422.8 H429.3 V419.4 H430.4 V418.7 H431.4 V418.9 H432.5 V419.7 H433.6 V421.2 H434.7 V420.6 H435.8 V423 H436.9 V423.2 H437.9 V423.8 H439 V424.7 H440.1 V427.4 H441.2 V429.3 H442.3 V431.2 H443.4 V433.8 H444.4 V437 H445.5 V438.5 H446.6 V440.5 H447.7 V442.4 H448.8 V443.4 H449.9 V444.8 H450.9 V447.2 H452 V448.7 H453.1 V449 H454.2 V449.9 H455.3 V450.9 H456.4 V451.5 H457.4 V452.9 H458.5 V453.8 H459.6 V455.1 H460.7 V456.3 H461.8 V458.4 H462.8 V457.2 H463.9 V457.2 H465 V458.1 H466.1 V457.1 H467.2 V457.8 H468.3 V458.8 H469.3 V460 H470.4 V459.1 H471.5 V459.7 H472.6 V462.1 H473.7 V461 H474.8 V460.7 H475.8 V462.4 H476.9 V460.6 H478 V462.3 H479.1 V462 H480.2 V462.6 H481.3 V462.7 H482.3 V463.6 Z" fill="#bdbdbd"/>
<polyline points="340.5,462.9 341.6,462.8 342.6,462.7 343.7,462.6 344.8,462.4 345.9,462.3 347,462.1 348.1,461.9 349.1,461.7 350.2,461.4 351.3,461.2 352.4,460.9 353.5,460.6 354.5,460.3 355.6,459.9 356.7,459.6 357.8,459.1 358.9,458.7 360,458.3 361,457.8 362.1,457.3 363.2,456.7 364.3,456.1 365.4,455.6 366.5,454.9 367.5,454.3 368.6,453.7 369.7,453 370.8,452.3 371.9,451.6 373,450.9 374,450.2 375.1,449.5 376.2,448.8 377.3,448.1 378.4,447.4 379.5,446.8 380.5,446.1 381.6,445.5 382.7,444.9 383.8,444.4 384.9,443.9 386,443.4 387,443 388.1,442.6 389.2,442.3 390.3,442 391.4,441.8 392.5,441.6 393.5,441.5 394.6,441.5 395.7,441.5 396.8,441.6 397.9,441.8 399,442 400,442.3 401.1,442.6 402.2,443 403.3,443.4 404.4,443.9 405.5,444.4 406.5,444.9 407.6,445.5 408.7,446.1 409.8,446.8 410.9,447.4 411.9,448.1 413,448.8 414.1,449.5 415.2,450.2 416.3,450.9 417.4,451.6 418.4,452.3 419.5,453 420.6,453.7 421.7,454.3 422.8,454.9 423.9,455.6 424.9,456.1 426,456.7 427.1,457.3 428.2,457.8 429.3,458.3 430.4,458.7 431.4,459.1 432.5,459.6 433.6,459.9 434.7,460.3 435.8,460.6 436.9,460.9 437.9,461.2 439,461.4 440.1,461.7 441.2,461.9 442.3,462.1 443.4,462.3 444.4,462.4 445.5,462.6 446.6,462.7 447.7,462.8 448.8,462.9 449.9,463 450.9,463.1 452,463.1 453.1,463.2 454.2,463.3 455.3,463.3 456.4,463.4 457.4,463.4 458.5,463.4 459.6,463.4 460.7,463.5 461.8,463.5 462.8,463.5 463.9,463.5 465,463.5 466.1,463.5 467.2,463.6 468.3,463.6 469.3,463.6 470.4,463.6 471.5,463.6 472.6,463.6 473.7,463.6 474.8,463.6 475.8,463.6 476.9,463.6 478,463.6 479.1,463.6 480.2,463.6 481.3,463.6 482.3,463.6" fill="none" stroke="#f01010" stroke-width="1.5"/>
<polyline points="340.5,463.6 341.6,463.6 342.6,463.6 343.7,463.6 344.8,463.6 345.9,463.6 347,463.6 348.1,463.6 349.1,463.6 350.2,463.6 351.3,463.6 352.4,463.6 353.5,463.6 354.5,463.6 355.6,463.6 356.7,463.6 357.8,463.6 358.9,463.6 360,463.6 361,463.6 362.1,463.6 363.2,463.6 364.3,463.6 365.4,463.6 366.5,463.6 367.5,463.6 368.6,463.6 369.7,463.6 370.8,463.6 371.9,463.6 373,463.6 374,463.6 375.1,463.6 376.2,463.6 377.3,463.6 378.4,463.6 379.5,463.6 380.5,463.6 381.6,463.6 382.7,463.6 383.8,463.6 384.9,463.6 386,463.6 387,463.6 388.1,463.6 389.2,463.6 390.3,463.6 391.4,463.6 392.5,463.5 393.5,463.5 394.6,463.5 395.7,463.4 396.8,463.4 397.9,463.3 399,463.2 400,463.1 401.1,462.9 402.2,462.7 403.3,462.5 404.4,462.1 405.5,461.7 406.5,461.3 407.6,460.7 408.7,460 409.8,459.2 410.9,458.2 411.9,457.1 413,455.9 414.1,454.4 415.2,452.9 416.3,451.1 417.4,449.2 418.4,447.2 419.5,445.1 420.6,442.9 421.7,440.6 422.8,438.3 423.9,436 424.9,433.8 426,431.7 427.1,429.8 428.2,428 429.3,426.6 430.4,425.4 431.4,424.5 432.5,423.9 433.6,423.8 434.7,423.9 435.8,424.5 436.9,425.4 437.9,426.6 439,428 440.1,429.8 441.2,431.7 442.3,433.8 443.4,436 444.4,438.3 445.5,440.6 446.6,442.9 447.7,445.1 448.8,447.2 449.9,449.2 450.9,451.1 452,452.9 453.1,454.4 454.2,455.9 455.3,457.1 456.4,458.2 457.4,459.2 458.5,460 459.6,460.7 460.7,461.3 461.8,461.7 462.8,462.1 463.9,462.5 465,462.7 466.1,462.9 467.2,463.1 468.3,463.2 469.3,463.3 470.4,463.4 471.5,463.4 472.6,463.5 473.7,463.5 474.8,463.5 475.8,463.6 476.9,463.6 478,463.6 479.1,463.6 480.2,463.6 481.3,463.6 482.3,463.6" fill="none" stroke="#1010f0" stroke-width="1.5"/>
<path d="M339.7,398.4 V463.6 H482.4" fill="none" stroke="#111" stroke-width="1.2"/>
<path d="M337.7,420.3 H339.7 M337.7,463.6 H339.7 M338.5,442 H339.7 M338.5,398.7 H339.7 M351.3,463.6 V465.6 M373,463.6 V465 M394.6,463.6 V465.6 M416.3,463.6 V465 M437.9,463.6 V465.6 M459.6,463.6 V465 M481.3,463.6 V465.6" stroke="#111" stroke-width="1"/>
<text x="335.8" y="424.3" font-size="11.5" text-anchor="end" font-weight="normal" font-style="normal" fill="#000" >2</text>
<text x="335.8" y="467.6" font-size="11.5" text-anchor="end" font-weight="normal" font-style="normal" fill="#000" >0</text>
<text x="346.7" y="408.7" font-size="13"><tspan font-style="italic">N</tspan> = 1219</text>
<path d="M432.4,275.4 V465" stroke="#111" stroke-width="1.3" stroke-dasharray="3,2"/>
<text x="351.3" y="476" font-size="11.5" text-anchor="middle" font-weight="normal" font-style="normal" fill="#000" >0.0</text>
<text x="394.6" y="476" font-size="11.5" text-anchor="middle" font-weight="normal" font-style="normal" fill="#000" >0.4</text>
<text x="437.9" y="476" font-size="11.5" text-anchor="middle" font-weight="normal" font-style="normal" fill="#000" >0.8</text>
<text x="481.3" y="476" font-size="11.5" text-anchor="middle" font-weight="normal" font-style="normal" fill="#000" >1.2</text>
<text x="419.3" y="487.7" font-size="13" text-anchor="middle" font-weight="normal" font-style="normal" fill="#000" >FRET</text>
<g transform="translate(325,347.6) rotate(-90)"><text x="0" y="0" font-size="12.5" text-anchor="middle">Probability (%)</text></g>
<defs><radialGradient id="bl1" gradientUnits="objectBoundingBox" cx="0.55" cy="0.68" r="0.62"><stop offset="0" stop-color="#20ff30"/><stop offset="0.14" stop-color="#00ff90"/><stop offset="0.3" stop-color="#00e0ff"/><stop offset="0.5" stop-color="#0090ff"/><stop offset="0.75" stop-color="#0050ff"/><stop offset="1" stop-color="#0020f8"/></radialGradient><radialGradient id="bl2" gradientUnits="objectBoundingBox" cx="0.35" cy="0.4" r="0.62"><stop offset="0" stop-color="#20ff30"/><stop offset="0.14" stop-color="#00ff90"/><stop offset="0.3" stop-color="#00e0ff"/><stop offset="0.5" stop-color="#0090ff"/><stop offset="0.75" stop-color="#0050ff"/><stop offset="1" stop-color="#0020f8"/></radialGradient><radialGradient id="bl3" gradientUnits="objectBoundingBox" cx="0.45" cy="0.5" r="0.62"><stop offset="0" stop-color="#90ffff"/><stop offset="0.2" stop-color="#30e0ff"/><stop offset="0.45" stop-color="#0090ff"/><stop offset="0.7" stop-color="#0050ff"/><stop offset="1" stop-color="#0020f8"/></radialGradient><radialGradient id="bl3b" gradientUnits="objectBoundingBox" cx="0.4" cy="0.55" r="0.62"><stop offset="0" stop-color="#90ffff"/><stop offset="0.2" stop-color="#30e0ff"/><stop offset="0.45" stop-color="#0090ff"/><stop offset="0.7" stop-color="#0050ff"/><stop offset="1" stop-color="#0020f8"/></radialGradient><radialGradient id="bl4" gradientUnits="objectBoundingBox" cx="0.63" cy="0.59" r="0.7"><stop offset="0" stop-color="#ff9000"/><stop offset="0.06" stop-color="#ffff00"/><stop offset="0.16" stop-color="#80ff00"/><stop offset="0.3" stop-color="#00ff40"/><stop offset="0.44" stop-color="#00ffe0"/><stop offset="0.55" stop-color="#00a0ff"/><stop offset="0.72" stop-color="#0050ff"/><stop offset="1" stop-color="#0014f0"/></radialGradient><radialGradient id="bl5" gradientUnits="objectBoundingBox" cx="0.38" cy="0.38" r="0.75"><stop offset="0" stop-color="#ff9000"/><stop offset="0.06" stop-color="#ffff00"/><stop offset="0.16" stop-color="#80ff00"/><stop offset="0.3" stop-color="#00ff40"/><stop offset="0.44" stop-color="#00ffe0"/><stop offset="0.55" stop-color="#00a0ff"/><stop offset="0.72" stop-color="#0050ff"/><stop offset="1" stop-color="#0014f0"/></radialGradient></defs>
<polygon points="563.3,268 572.2,261.1 572.6,264.4 575.5,265.2 578.7,271.3 578.3,275 573,280.3 569,279.8 562.9,274.6" fill="url(#bl1)"/>
<polygon points="577.1,283.5 582.8,278.6 589.3,279 593.4,281.5 593,287.6 587.7,292.1 582,292.5 576.7,286.8" fill="url(#bl2)"/>
<polygon points="578.6,332 582.5,328.2 587.5,327.8 591.2,330 590.5,334.5 586.5,339 583,342 580.5,341.5 578.3,337" fill="url(#bl3)"/>
<polygon points="588.6,346.5 592.5,341.5 597,339.2 601.5,339.8 605.6,343.5 605,347.5 600,350.2 595,351.8 590,350.5" fill="url(#bl3b)"/>
<polygon points="566.8,410.5 571.5,405 576.5,402.7 581.5,403.2 585.8,407.5 586,412.8 583,417.5 577.5,421 575,422.8 570.5,419.5 566.6,413.8" fill="url(#bl4)"/>
<polygon points="581.2,427.5 585.5,421.5 590.5,418 596,417.4 601.5,420.5 603.2,425 601.5,430.5 595.5,435 590,437.2 585.5,434.5 581.5,429.5" fill="url(#bl5)"/>
<rect x="540.4" y="247.5" width="70.5" height="67.5" fill="none" stroke="#666" stroke-width="1.1"/>
<path d="M539.2,298.1 H541.6 M610.9,298.1 H609.4 M558,247.5 V249 M558,315 V313.5 M539.2,281.2 H541.9 M610.9,281.2 H609.4 M575.6,247.5 V249 M575.6,315 V313.5 M539.2,264.4 H541.6 M610.9,264.4 H609.4 M593.3,247.5 V249 M593.3,315 V313.5" stroke="#555" stroke-width="1"/>
<text x="537.3" y="318.3" font-size="11.5" text-anchor="end" font-weight="normal" font-style="normal" fill="#000" >0.0</text>
<text x="537.3" y="286.9" font-size="11.5" text-anchor="end" font-weight="normal" font-style="normal" fill="#000" >0.5</text>
<text x="537.3" y="253.6" font-size="11.5" text-anchor="end" font-weight="normal" font-style="normal" fill="#000" >1.0</text>
<rect x="540.4" y="320.4" width="70.5" height="67.1" fill="none" stroke="#666" stroke-width="1.1"/>
<path d="M539.2,370.7 H541.6 M610.9,370.7 H609.4 M558,320.4 V321.9 M558,387.5 V386 M539.2,353.9 H541.9 M610.9,353.9 H609.4 M575.6,320.4 V321.9 M575.6,387.5 V386 M539.2,337.2 H541.6 M610.9,337.2 H609.4 M593.3,320.4 V321.9 M593.3,387.5 V386" stroke="#555" stroke-width="1"/>
<text x="537.3" y="390.7" font-size="11.5" text-anchor="end" font-weight="normal" font-style="normal" fill="#000" >0.0</text>
<text x="537.3" y="359" font-size="11.5" text-anchor="end" font-weight="normal" font-style="normal" fill="#000" >0.5</text>
<text x="537.3" y="328.8" font-size="11.5" text-anchor="end" font-weight="normal" font-style="normal" fill="#000" >1.0</text>
<rect x="540.4" y="394.8" width="70.5" height="66.6" fill="none" stroke="#666" stroke-width="1.1"/>
<path d="M539.2,444.8 H541.6 M610.9,444.8 H609.4 M558,394.8 V396.3 M558,461.4 V459.9 M539.2,428.1 H541.9 M610.9,428.1 H609.4 M575.6,394.8 V396.3 M575.6,461.4 V459.9 M539.2,411.4 H541.6 M610.9,411.4 H609.4 M593.3,394.8 V396.3 M593.3,461.4 V459.9" stroke="#555" stroke-width="1"/>
<text x="537.3" y="459.7" font-size="11.5" text-anchor="end" font-weight="normal" font-style="normal" fill="#000" >0.0</text>
<text x="537.3" y="433" font-size="11.5" text-anchor="end" font-weight="normal" font-style="normal" fill="#000" >0.5</text>
<text x="537.3" y="400.3" font-size="11.5" text-anchor="end" font-weight="normal" font-style="normal" fill="#000" >1.0</text>
<text x="539.4" y="474.6" font-size="11.5" text-anchor="middle" font-weight="normal" font-style="normal" fill="#000" >0.0</text>
<text x="574.6" y="474.6" font-size="11.5" text-anchor="middle" font-weight="normal" font-style="normal" fill="#000" >0.5</text>
<text x="609.9" y="474.6" font-size="11.5" text-anchor="middle" font-weight="normal" font-style="normal" fill="#000" >1.0</text>
<text x="573.2" y="488.2" font-size="12.2" text-anchor="middle" font-weight="normal" font-style="normal" fill="#000" >Initial FRET</text>
<g transform="translate(518.8,352.6) rotate(-90)"><text x="0" y="0" font-size="12.2" text-anchor="middle">Final FRET</text></g>
<rect x="641.1" y="338.7" width="7.9" height="4.9" fill="#0030ff"/>
<rect x="641.1" y="343.3" width="7.9" height="4.9" fill="#0060ff"/>
<rect x="641.1" y="348" width="7.9" height="4.9" fill="#0090ff"/>
<rect x="641.1" y="352.6" width="7.9" height="4.9" fill="#00c0ff"/>
<rect x="641.1" y="357.2" width="7.9" height="4.9" fill="#00ffff"/>
<rect x="641.1" y="361.8" width="7.9" height="4.9" fill="#00f0c0"/>
<rect x="641.1" y="366.5" width="7.9" height="4.9" fill="#00ff80"/>
<rect x="641.1" y="371.1" width="7.9" height="4.9" fill="#00ff40"/>
<rect x="641.1" y="375.7" width="7.9" height="4.9" fill="#00ff00"/>
<rect x="641.1" y="380.4" width="7.9" height="4.9" fill="#40ff00"/>
<rect x="641.1" y="385" width="7.9" height="4.9" fill="#80ff00"/>
<rect x="641.1" y="389.6" width="7.9" height="4.9" fill="#c0ff00"/>
<rect x="641.1" y="394.2" width="7.9" height="4.9" fill="#ffff00"/>
<rect x="641.1" y="398.9" width="7.9" height="4.9" fill="#ffc000"/>
<rect x="641.1" y="403.5" width="7.9" height="4.9" fill="#ff9000"/>
<rect x="641.1" y="408.1" width="7.9" height="4.9" fill="#ff6000"/>
<rect x="641.1" y="412.7" width="7.9" height="4.9" fill="#ff3000"/>
<rect x="641.1" y="417.4" width="7.9" height="4.9" fill="#ff0000"/>
<text x="654.6" y="340" font-size="11.5" text-anchor="start" font-weight="normal" font-style="normal" fill="#000" >0.000</text>
<text x="654.6" y="359.4" font-size="11.5" text-anchor="start" font-weight="normal" font-style="normal" fill="#000" >0.005</text>
<text x="654.6" y="380.7" font-size="11.5" text-anchor="start" font-weight="normal" font-style="normal" fill="#000" >0.008</text>
<text x="654.6" y="401.1" font-size="11.5" text-anchor="start" font-weight="normal" font-style="normal" fill="#000" >0.013</text>
<text x="654.6" y="422.3" font-size="11.5" text-anchor="start" font-weight="normal" font-style="normal" fill="#000" >0.017</text>
<text x="637.4" y="437.3" font-size="10.5" fill="#555" style="font-family:'Liberation Serif',serif">(s<tspan font-size="6.5" dy="-4">-1</tspan><tspan dy="4">)</tspan></text></svg></body></html>
